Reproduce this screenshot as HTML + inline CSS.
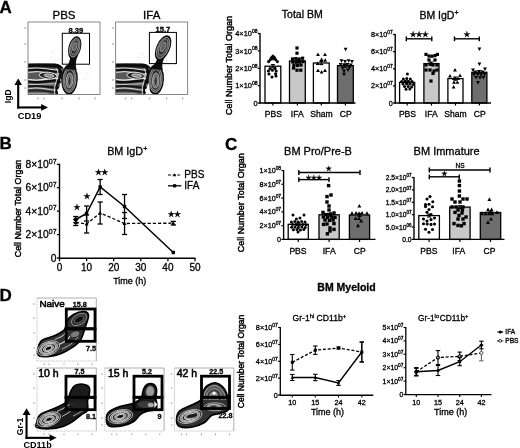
<!DOCTYPE html>
<html lang="en"><head><meta charset="utf-8"><title>Figure</title>
<style>
html,body{margin:0;padding:0;background:#fff;}
body{width:520px;height:448px;overflow:hidden;}
svg{display:block;filter:blur(0.35px);}
text{font-kerning:normal;stroke:#000;stroke-width:0.3px;}
</style></head><body>
<svg width="520" height="448" viewBox="0 0 520 448" font-family='"Liberation Sans", "DejaVu Sans", sans-serif'>
<rect width="520" height="448" fill="#fff"/>
<defs>
<filter id="bl" x="-10%" y="-10%" width="120%" height="120%"><feGaussianBlur stdDeviation="0.45"/></filter>
<filter id="bl2" x="-10%" y="-10%" width="120%" height="120%"><feGaussianBlur stdDeviation="0.7"/></filter>
</defs>
<text x="-0.6" y="12.6" font-size="17" text-anchor="start" font-weight="bold" fill="#000">A</text>
<text x="-0.6" y="148.8" font-size="17" text-anchor="start" font-weight="bold" fill="#000">B</text>
<text x="225" y="150" font-size="17" text-anchor="start" font-weight="bold" fill="#000">C</text>
<text x="-0.6" y="301.3" font-size="17" text-anchor="start" font-weight="bold" fill="#000">D</text>
<g>
<line x1="24.2" y1="28" x2="26.2" y2="28" stroke="#777" stroke-width="0.8" stroke-linecap="butt"/>
<line x1="24.2" y1="44" x2="26.2" y2="44" stroke="#777" stroke-width="0.8" stroke-linecap="butt"/>
<line x1="24.2" y1="62" x2="26.2" y2="62" stroke="#777" stroke-width="0.8" stroke-linecap="butt"/>
<line x1="24.2" y1="80" x2="26.2" y2="80" stroke="#777" stroke-width="0.8" stroke-linecap="butt"/>
<line x1="24.2" y1="88" x2="26.2" y2="88" stroke="#777" stroke-width="0.8" stroke-linecap="butt"/>
<line x1="38" y1="97.5" x2="38" y2="99.5" stroke="#777" stroke-width="0.8" stroke-linecap="butt"/>
<line x1="44" y1="97.5" x2="44" y2="99.5" stroke="#777" stroke-width="0.8" stroke-linecap="butt"/>
<line x1="62" y1="97.5" x2="62" y2="99.5" stroke="#777" stroke-width="0.8" stroke-linecap="butt"/>
<line x1="79" y1="97.5" x2="79" y2="99.5" stroke="#777" stroke-width="0.8" stroke-linecap="butt"/>
<line x1="95" y1="97.5" x2="95" y2="99.5" stroke="#777" stroke-width="0.8" stroke-linecap="butt"/>
<circle cx="59.7" cy="52.4" r="0.45" fill="#c4c4c4"/>
<circle cx="69.5" cy="51.2" r="0.45" fill="#c4c4c4"/>
<circle cx="66.1" cy="55.9" r="0.45" fill="#c4c4c4"/>
<circle cx="51.7" cy="58.1" r="0.45" fill="#c4c4c4"/>
<circle cx="51.1" cy="56.9" r="0.45" fill="#c4c4c4"/>
<circle cx="52.1" cy="51.5" r="0.45" fill="#c4c4c4"/>
<circle cx="62.7" cy="63.2" r="0.45" fill="#c4c4c4"/>
<circle cx="53.7" cy="53.6" r="0.45" fill="#c4c4c4"/>
<circle cx="68.8" cy="65.2" r="0.45" fill="#c4c4c4"/>
<circle cx="67.3" cy="56.3" r="0.45" fill="#c4c4c4"/>
<circle cx="79.3" cy="50.7" r="0.45" fill="#c4c4c4"/>
<circle cx="75.8" cy="54.6" r="0.45" fill="#c4c4c4"/>
<circle cx="54.3" cy="51.9" r="0.45" fill="#c4c4c4"/>
<circle cx="59.3" cy="63.1" r="0.45" fill="#c4c4c4"/>
<circle cx="55.4" cy="59.3" r="0.45" fill="#c4c4c4"/>
<circle cx="69.2" cy="56.0" r="0.45" fill="#c4c4c4"/>
<circle cx="66.4" cy="51.0" r="0.45" fill="#c4c4c4"/>
<circle cx="51.8" cy="53.3" r="0.45" fill="#c4c4c4"/>
<circle cx="70.4" cy="56.8" r="0.45" fill="#c4c4c4"/>
<circle cx="59.4" cy="59.4" r="0.45" fill="#c4c4c4"/>
<circle cx="63.6" cy="54.8" r="0.45" fill="#c4c4c4"/>
<circle cx="73.8" cy="61.2" r="0.45" fill="#c4c4c4"/>
<circle cx="57.3" cy="59.2" r="0.45" fill="#c4c4c4"/>
<circle cx="65.8" cy="64.0" r="0.45" fill="#c4c4c4"/>
<circle cx="71.9" cy="54.6" r="0.45" fill="#c4c4c4"/>
<circle cx="79.4" cy="51.9" r="0.45" fill="#c4c4c4"/>
<circle cx="83.9" cy="81.2" r="0.45" fill="#c4c4c4"/>
<circle cx="80.1" cy="73.7" r="0.45" fill="#c4c4c4"/>
<circle cx="78.5" cy="78.7" r="0.45" fill="#c4c4c4"/>
<circle cx="88.7" cy="76.0" r="0.45" fill="#c4c4c4"/>
<circle cx="90.3" cy="68.8" r="0.45" fill="#c4c4c4"/>
<circle cx="87.7" cy="76.6" r="0.45" fill="#c4c4c4"/>
<circle cx="86.1" cy="72.8" r="0.45" fill="#c4c4c4"/>
<circle cx="89.8" cy="86.5" r="0.45" fill="#c4c4c4"/>
<circle cx="84.6" cy="78.6" r="0.45" fill="#c4c4c4"/>
<circle cx="78.8" cy="79.6" r="0.45" fill="#c4c4c4"/>
<g filter="url(#bl)">
<clipPath id="clipA28"><path d="M28 63.6 L55 63.2 Q61 64.5 64 69 L65 76 Q61.5 77 60.5 83 Q59 90 57.5 94.5 L28 94.5 Z"/></clipPath>
<path d="M28 63.6 L55 63.2 Q61 64.5 64 69 L65 76 Q61.5 77 60.5 83 Q59 90 57.5 94.5 L28 94.5 Z" fill="#585858" stroke="none" stroke-width="1" stroke-linejoin="round"/>
<g clip-path="url(#clipA28)">
<path d="M27.5 65.4 Q39.4 64.80000000000001 51.56 65.58000000000001 T66 66.60000000000001" fill="none" stroke="#0a0a0a" stroke-width="3.6" stroke-linejoin="round"/>
<path d="M27.5 68.5 Q37.0 67.3 46.6 68.86 T58 69.7" fill="none" stroke="#d8d8d8" stroke-width="1.1" stroke-linejoin="round"/>
<path d="M27.5 70.4 Q38.2 68.9 49.08 70.85000000000001 T62 71.60000000000001" fill="none" stroke="#111" stroke-width="2.0" stroke-linejoin="round"/>
<path d="M27.5 72.4 Q37.3 70.60000000000001 47.22 72.94000000000001 T59 73.60000000000001" fill="none" stroke="#ececec" stroke-width="1.0" stroke-linejoin="round"/>
<path d="M27.5 79.4 Q37.9 81.0 48.46 78.92 T61 80.60000000000001" fill="none" stroke="#f0f0f0" stroke-width="1.3" stroke-linejoin="round"/>
<path d="M27.5 81.6 Q37.9 82.8 48.46 81.24 T61 82.8" fill="none" stroke="#111" stroke-width="2.3" stroke-linejoin="round"/>
<path d="M27.5 84.2 Q37.3 84.8 47.22 84.02 T59 85.4" fill="none" stroke="#c8c8c8" stroke-width="1.1" stroke-linejoin="round"/>
<path d="M27.5 86.4 Q37.3 85.60000000000001 47.22 86.64 T59 87.60000000000001" fill="none" stroke="#181818" stroke-width="2.0" stroke-linejoin="round"/>
<path d="M27.5 88.6 Q37.0 87.19999999999999 46.6 89.02 T58 89.8" fill="none" stroke="#dcdcdc" stroke-width="1.1" stroke-linejoin="round"/>
<path d="M27.5 90.8 Q37.0 89.8 46.6 91.1 T58 92.0" fill="none" stroke="#222" stroke-width="1.9" stroke-linejoin="round"/>
<path d="M27.5 93.3 Q34.6 93.3 41.64 93.3 T50 94.5" fill="none" stroke="#a0a0a0" stroke-width="1.3" stroke-linejoin="round"/>
<path d="M58.5 67 Q62.5 72 59 80 T57 94" fill="none" stroke="#0c0c0c" stroke-width="2.2" stroke-linejoin="round"/>
<path d="M56.3 68.5 Q59.5 73 56.6 80 T54.6 94" fill="none" stroke="#e4e4e4" stroke-width="0.9" stroke-linejoin="round"/>
</g>
<ellipse cx="48" cy="75.6" rx="8.8" ry="3.3" fill="#262626" stroke="#e8e8e8" stroke-width="0.9" transform="rotate(5 48 75.6)"/>
<ellipse cx="49" cy="75.6" rx="5" ry="1.6" fill="#8a8a8a" stroke="#f2f2f2" stroke-width="0.7" transform="rotate(5 49 75.6)"/>
<ellipse cx="69.5" cy="79.3" rx="8.3" ry="15.3" fill="#0a0a0a" stroke="none" stroke-width="0.6" transform="rotate(3 69.5 79.3)"/>
<ellipse cx="69.5" cy="79.6" rx="6.5" ry="12.8" fill="#4a4a4a" stroke="#cfcfcf" stroke-width="0.6" transform="rotate(3 69.5 79.6)"/>
<ellipse cx="69.5" cy="80" rx="4.9" ry="10.4" fill="#262626" stroke="#c8c8c8" stroke-width="0.6" transform="rotate(3 69.5 80)"/>
<ellipse cx="69.5" cy="80.5" rx="3.3" ry="7.6" fill="#6a6a6a" stroke="#e4e4e4" stroke-width="0.6" transform="rotate(3 69.5 80.5)"/>
<ellipse cx="69.5" cy="81" rx="1.7" ry="4.6" fill="#333" stroke="#ddd" stroke-width="0.5" transform="rotate(3 69.5 81)"/>
<path d="M65.5 69 Q70.5 62 70.2 55 L78.2 55 Q74.5 62 76.5 70 Z" fill="#0c0c0c" stroke="none" stroke-width="1" stroke-linejoin="round"/>
<ellipse cx="74.7" cy="47.6" rx="6.2" ry="11.6" fill="#0a0a0a" stroke="none" stroke-width="0.6" transform="rotate(15 74.7 47.6)"/>
<ellipse cx="74.7" cy="47.6" rx="4.84" ry="9.74" fill="#484848" stroke="#c8c8c8" stroke-width="0.6" transform="rotate(15 74.7 47.6)"/>
<ellipse cx="74.7" cy="47.1" rx="3.41" ry="7.19" fill="#2a2a2a" stroke="#bcbcbc" stroke-width="0.55" transform="rotate(15 74.7 47.1)"/>
<ellipse cx="74.7" cy="46.6" rx="1.98" ry="4.41" fill="#5e5e5e" stroke="#d0d0d0" stroke-width="0.5" transform="rotate(15 74.7 46.6)"/>
<path d="M58.2 94.5 Q59 88 61 82.5 Q62.2 88 62.3 94.5 Z" fill="#fff" stroke="none" stroke-width="1" stroke-linejoin="round"/>
<ellipse cx="59.5" cy="90.6" rx="2.1" ry="2.1" fill="#fff" stroke="none" stroke-width="0.6" transform="rotate(0 59.5 90.6)"/>
</g>
<rect x="28" y="22" width="72" height="72.5" fill="none" stroke="#6a6a6a" stroke-width="0.8"/>
<rect x="62.3" y="33.3" width="27.200000000000003" height="30.900000000000006" fill="none" stroke="#000" stroke-width="1"/>
<text x="75.9" y="33.0" font-size="7.6" text-anchor="middle" font-weight="bold" fill="#000">8.39</text>
<text x="64.0" y="18.6" font-size="11.5" text-anchor="middle" font-weight="normal" fill="#000">PBS</text>
</g>
<g>
<line x1="111.9" y1="28" x2="113.9" y2="28" stroke="#777" stroke-width="0.8" stroke-linecap="butt"/>
<line x1="111.9" y1="44" x2="113.9" y2="44" stroke="#777" stroke-width="0.8" stroke-linecap="butt"/>
<line x1="111.9" y1="62" x2="113.9" y2="62" stroke="#777" stroke-width="0.8" stroke-linecap="butt"/>
<line x1="111.9" y1="80" x2="113.9" y2="80" stroke="#777" stroke-width="0.8" stroke-linecap="butt"/>
<line x1="111.9" y1="88" x2="113.9" y2="88" stroke="#777" stroke-width="0.8" stroke-linecap="butt"/>
<line x1="125.7" y1="97.5" x2="125.7" y2="99.5" stroke="#777" stroke-width="0.8" stroke-linecap="butt"/>
<line x1="131.7" y1="97.5" x2="131.7" y2="99.5" stroke="#777" stroke-width="0.8" stroke-linecap="butt"/>
<line x1="149.7" y1="97.5" x2="149.7" y2="99.5" stroke="#777" stroke-width="0.8" stroke-linecap="butt"/>
<line x1="166.7" y1="97.5" x2="166.7" y2="99.5" stroke="#777" stroke-width="0.8" stroke-linecap="butt"/>
<line x1="182.7" y1="97.5" x2="182.7" y2="99.5" stroke="#777" stroke-width="0.8" stroke-linecap="butt"/>
<circle cx="157.1" cy="65.9" r="0.45" fill="#c4c4c4"/>
<circle cx="162.4" cy="54.6" r="0.45" fill="#c4c4c4"/>
<circle cx="149.3" cy="60.7" r="0.45" fill="#c4c4c4"/>
<circle cx="138.4" cy="57.4" r="0.45" fill="#c4c4c4"/>
<circle cx="142.7" cy="51.9" r="0.45" fill="#c4c4c4"/>
<circle cx="139.5" cy="62.3" r="0.45" fill="#c4c4c4"/>
<circle cx="141.6" cy="54.0" r="0.45" fill="#c4c4c4"/>
<circle cx="149.4" cy="63.9" r="0.45" fill="#c4c4c4"/>
<circle cx="140.1" cy="57.2" r="0.45" fill="#c4c4c4"/>
<circle cx="154.2" cy="64.1" r="0.45" fill="#c4c4c4"/>
<circle cx="162.3" cy="63.8" r="0.45" fill="#c4c4c4"/>
<circle cx="146.1" cy="56.6" r="0.45" fill="#c4c4c4"/>
<circle cx="148.5" cy="64.1" r="0.45" fill="#c4c4c4"/>
<circle cx="166.4" cy="52.4" r="0.45" fill="#c4c4c4"/>
<circle cx="143.0" cy="53.7" r="0.45" fill="#c4c4c4"/>
<circle cx="144.7" cy="57.8" r="0.45" fill="#c4c4c4"/>
<circle cx="155.4" cy="54.2" r="0.45" fill="#c4c4c4"/>
<circle cx="137.8" cy="56.7" r="0.45" fill="#c4c4c4"/>
<circle cx="148.8" cy="59.1" r="0.45" fill="#c4c4c4"/>
<circle cx="166.3" cy="61.0" r="0.45" fill="#c4c4c4"/>
<circle cx="153.2" cy="59.9" r="0.45" fill="#c4c4c4"/>
<circle cx="158.0" cy="50.9" r="0.45" fill="#c4c4c4"/>
<circle cx="164.7" cy="62.5" r="0.45" fill="#c4c4c4"/>
<circle cx="163.9" cy="62.8" r="0.45" fill="#c4c4c4"/>
<circle cx="149.5" cy="56.4" r="0.45" fill="#c4c4c4"/>
<circle cx="140.8" cy="60.1" r="0.45" fill="#c4c4c4"/>
<circle cx="166.6" cy="61.9" r="0.45" fill="#c4c4c4"/>
<circle cx="168.6" cy="64.5" r="0.45" fill="#c4c4c4"/>
<circle cx="170.5" cy="61.5" r="0.45" fill="#c4c4c4"/>
<circle cx="165.7" cy="64.2" r="0.45" fill="#c4c4c4"/>
<circle cx="167.1" cy="70.2" r="0.45" fill="#c4c4c4"/>
<circle cx="166.1" cy="84.5" r="0.45" fill="#c4c4c4"/>
<circle cx="174.3" cy="64.2" r="0.45" fill="#c4c4c4"/>
<circle cx="169.2" cy="69.7" r="0.45" fill="#c4c4c4"/>
<circle cx="170.8" cy="63.4" r="0.45" fill="#c4c4c4"/>
<circle cx="177.6" cy="87.8" r="0.45" fill="#c4c4c4"/>
<g filter="url(#bl)">
<clipPath id="clipA115"><path d="M115.7 63.6 L142.7 63.2 Q148.7 64.5 151.7 69 L152.7 76 Q149.2 77 148.2 83 Q146.7 90 145.2 94.5 L115.7 94.5 Z"/></clipPath>
<path d="M115.7 63.6 L142.7 63.2 Q148.7 64.5 151.7 69 L152.7 76 Q149.2 77 148.2 83 Q146.7 90 145.2 94.5 L115.7 94.5 Z" fill="#585858" stroke="none" stroke-width="1" stroke-linejoin="round"/>
<g clip-path="url(#clipA115)">
<path d="M115.2 65.4 Q127.10000000000001 64.80000000000001 139.26 65.58000000000001 T153.7 66.60000000000001" fill="none" stroke="#0a0a0a" stroke-width="3.6" stroke-linejoin="round"/>
<path d="M115.2 68.5 Q124.7 67.3 134.3 68.86 T145.7 69.7" fill="none" stroke="#d8d8d8" stroke-width="1.1" stroke-linejoin="round"/>
<path d="M115.2 70.4 Q125.9 68.9 136.78 70.85000000000001 T149.7 71.60000000000001" fill="none" stroke="#111" stroke-width="2.0" stroke-linejoin="round"/>
<path d="M115.2 72.4 Q125.0 70.60000000000001 134.92000000000002 72.94000000000001 T146.7 73.60000000000001" fill="none" stroke="#ececec" stroke-width="1.0" stroke-linejoin="round"/>
<path d="M115.2 79.4 Q125.60000000000001 81.0 136.16 78.92 T148.7 80.60000000000001" fill="none" stroke="#f0f0f0" stroke-width="1.3" stroke-linejoin="round"/>
<path d="M115.2 81.6 Q125.60000000000001 82.8 136.16 81.24 T148.7 82.8" fill="none" stroke="#111" stroke-width="2.3" stroke-linejoin="round"/>
<path d="M115.2 84.2 Q125.0 84.8 134.92000000000002 84.02 T146.7 85.4" fill="none" stroke="#c8c8c8" stroke-width="1.1" stroke-linejoin="round"/>
<path d="M115.2 86.4 Q125.0 85.60000000000001 134.92000000000002 86.64 T146.7 87.60000000000001" fill="none" stroke="#181818" stroke-width="2.0" stroke-linejoin="round"/>
<path d="M115.2 88.6 Q124.7 87.19999999999999 134.3 89.02 T145.7 89.8" fill="none" stroke="#dcdcdc" stroke-width="1.1" stroke-linejoin="round"/>
<path d="M115.2 90.8 Q124.7 89.8 134.3 91.1 T145.7 92.0" fill="none" stroke="#222" stroke-width="1.9" stroke-linejoin="round"/>
<path d="M115.2 93.3 Q122.3 93.3 129.34 93.3 T137.7 94.5" fill="none" stroke="#a0a0a0" stroke-width="1.3" stroke-linejoin="round"/>
<path d="M146.2 67 Q150.2 72 146.7 80 T144.7 94" fill="none" stroke="#0c0c0c" stroke-width="2.2" stroke-linejoin="round"/>
<path d="M144.0 68.5 Q147.2 73 144.3 80 T142.3 94" fill="none" stroke="#e4e4e4" stroke-width="0.9" stroke-linejoin="round"/>
</g>
<ellipse cx="135.7" cy="75.6" rx="8.8" ry="3.3" fill="#262626" stroke="#e8e8e8" stroke-width="0.9" transform="rotate(5 135.7 75.6)"/>
<ellipse cx="136.7" cy="75.6" rx="5" ry="1.6" fill="#8a8a8a" stroke="#f2f2f2" stroke-width="0.7" transform="rotate(5 136.7 75.6)"/>
<ellipse cx="155.7" cy="79.3" rx="8.3" ry="15.3" fill="#0a0a0a" stroke="none" stroke-width="0.6" transform="rotate(3 155.7 79.3)"/>
<ellipse cx="155.7" cy="79.6" rx="6.5" ry="12.8" fill="#4a4a4a" stroke="#cfcfcf" stroke-width="0.6" transform="rotate(3 155.7 79.6)"/>
<ellipse cx="155.7" cy="80" rx="4.9" ry="10.4" fill="#262626" stroke="#c8c8c8" stroke-width="0.6" transform="rotate(3 155.7 80)"/>
<ellipse cx="155.7" cy="80.5" rx="3.3" ry="7.6" fill="#6a6a6a" stroke="#e4e4e4" stroke-width="0.6" transform="rotate(3 155.7 80.5)"/>
<ellipse cx="155.7" cy="81" rx="1.7" ry="4.6" fill="#333" stroke="#ddd" stroke-width="0.5" transform="rotate(3 155.7 81)"/>
<path d="M151.7 69 Q156.7 62 158.6 55 L166.6 55 Q160.7 62 162.7 70 Z" fill="#0c0c0c" stroke="none" stroke-width="1" stroke-linejoin="round"/>
<ellipse cx="163.1" cy="47.9" rx="6.8" ry="13.4" fill="#0a0a0a" stroke="none" stroke-width="0.6" transform="rotate(24 163.1 47.9)"/>
<ellipse cx="163.1" cy="47.9" rx="5.3" ry="11.26" fill="#484848" stroke="#c8c8c8" stroke-width="0.6" transform="rotate(24 163.1 47.9)"/>
<ellipse cx="163.1" cy="47.4" rx="3.74" ry="8.31" fill="#2a2a2a" stroke="#bcbcbc" stroke-width="0.55" transform="rotate(24 163.1 47.4)"/>
<ellipse cx="163.1" cy="46.9" rx="2.18" ry="5.09" fill="#5e5e5e" stroke="#d0d0d0" stroke-width="0.5" transform="rotate(24 163.1 46.9)"/>
<path d="M145.9 94.5 Q146.7 88 148.7 82.5 Q149.9 88 150.0 94.5 Z" fill="#fff" stroke="none" stroke-width="1" stroke-linejoin="round"/>
<ellipse cx="147.2" cy="90.6" rx="2.1" ry="2.1" fill="#fff" stroke="none" stroke-width="0.6" transform="rotate(0 147.2 90.6)"/>
</g>
<rect x="115.7" y="22" width="71.99999999999999" height="72.5" fill="none" stroke="#6a6a6a" stroke-width="0.8"/>
<rect x="149.4" y="32.4" width="27.0" height="31.200000000000003" fill="none" stroke="#000" stroke-width="1"/>
<text x="162.9" y="32.1" font-size="7.6" text-anchor="middle" font-weight="bold" fill="#000">15.7</text>
<text x="151.7" y="18.6" font-size="11.5" text-anchor="middle" font-weight="normal" fill="#000">IFA</text>
</g>
<line x1="18.2" y1="83" x2="18.2" y2="108.5" stroke="#000" stroke-width="2.1" stroke-linecap="butt"/>
<line x1="17.15" y1="107.45" x2="43" y2="107.45" stroke="#000" stroke-width="2.1" stroke-linecap="butt"/>
<path d="M18.2 78.6 L22 85 L14.4 85 Z" fill="#000"/>
<path d="M48 107.45 L41.2 104.1 L41.2 110.8 Z" fill="#000"/>
<text x="11.5" y="103.2" font-size="8.6" text-anchor="start" font-weight="bold" fill="#000" transform="rotate(-90 11.5 103.2)" style="stroke-width:0">IgD</text>
<text x="17.7" y="118.9" font-size="9.3" text-anchor="start" font-weight="bold" fill="#000" style="stroke-width:0">CD19</text>
<text x="232.3" y="65.5" font-size="9" text-anchor="middle" font-weight="normal" fill="#000" transform="rotate(-90 232.3 65.5)" style="stroke-width:0.45px">Cell Number Total Organ</text>
<text x="302.3" y="18.4" font-size="10.5" text-anchor="middle" font-weight="normal" fill="#000">Total BM</text>
<rect x="265" y="66.2" width="15.800000000000011" height="36.8" fill="#fff" stroke="#000" stroke-width="1.3"/>
<line x1="272.9" y1="103" x2="272.9" y2="105.6" stroke="#000" stroke-width="1.2" stroke-linecap="butt"/>
<rect x="289.5" y="61" width="15.800000000000011" height="42" fill="#c8c8c8" stroke="#000" stroke-width="1.3"/>
<line x1="297.4" y1="103" x2="297.4" y2="105.6" stroke="#000" stroke-width="1.2" stroke-linecap="butt"/>
<rect x="313.4" y="63" width="15.800000000000011" height="40" fill="#fff" stroke="#000" stroke-width="1.3"/>
<line x1="321.29999999999995" y1="103" x2="321.29999999999995" y2="105.6" stroke="#000" stroke-width="1.2" stroke-linecap="butt"/>
<rect x="337.5" y="65.6" width="15.800000000000011" height="37.400000000000006" fill="#6e6e6e" stroke="#000" stroke-width="1.3"/>
<line x1="345.4" y1="103" x2="345.4" y2="105.6" stroke="#000" stroke-width="1.2" stroke-linecap="butt"/>
<line x1="260" y1="33.0" x2="260" y2="103.6" stroke="#000" stroke-width="1.4" stroke-linecap="butt"/>
<line x1="257.8" y1="33.5" x2="260" y2="33.5" stroke="#000" stroke-width="1.26" stroke-linecap="butt"/>
<text x="257.5" y="36.16" font-size="7.4" text-anchor="end" font-weight="normal" fill="#000">4×10<tspan font-size="5.03" dy="-3.11">08</tspan></text>
<line x1="257.8" y1="50.9" x2="260" y2="50.9" stroke="#000" stroke-width="1.26" stroke-linecap="butt"/>
<text x="257.5" y="53.56" font-size="7.4" text-anchor="end" font-weight="normal" fill="#000">3×10<tspan font-size="5.03" dy="-3.11">08</tspan></text>
<line x1="257.8" y1="68.3" x2="260" y2="68.3" stroke="#000" stroke-width="1.26" stroke-linecap="butt"/>
<text x="257.5" y="70.96" font-size="7.4" text-anchor="end" font-weight="normal" fill="#000">2×10<tspan font-size="5.03" dy="-3.11">08</tspan></text>
<line x1="257.8" y1="85.6" x2="260" y2="85.6" stroke="#000" stroke-width="1.26" stroke-linecap="butt"/>
<text x="257.5" y="88.26" font-size="7.4" text-anchor="end" font-weight="normal" fill="#000">1×10<tspan font-size="5.03" dy="-3.11">08</tspan></text>
<line x1="257.8" y1="103" x2="260" y2="103" stroke="#000" stroke-width="1.26" stroke-linecap="butt"/>
<text x="257.5" y="105.66" font-size="7.4" text-anchor="end" font-weight="normal" fill="#000">0</text>
<line x1="259.4" y1="103" x2="355.5" y2="103" stroke="#000" stroke-width="1.4" stroke-linecap="butt"/>
<line x1="272.9" y1="64.60000000000001" x2="272.9" y2="67.8" stroke="#000" stroke-width="1.1" stroke-linecap="butt"/>
<line x1="270.9" y1="64.60000000000001" x2="274.9" y2="64.60000000000001" stroke="#000" stroke-width="1.1" stroke-linecap="butt"/>
<line x1="270.9" y1="67.8" x2="274.9" y2="67.8" stroke="#000" stroke-width="1.1" stroke-linecap="butt"/>
<line x1="297.4" y1="59.4" x2="297.4" y2="62.6" stroke="#000" stroke-width="1.1" stroke-linecap="butt"/>
<line x1="295.4" y1="59.4" x2="299.4" y2="59.4" stroke="#000" stroke-width="1.1" stroke-linecap="butt"/>
<line x1="295.4" y1="62.6" x2="299.4" y2="62.6" stroke="#000" stroke-width="1.1" stroke-linecap="butt"/>
<line x1="321.29999999999995" y1="61.4" x2="321.29999999999995" y2="64.6" stroke="#000" stroke-width="1.1" stroke-linecap="butt"/>
<line x1="319.29999999999995" y1="61.4" x2="323.29999999999995" y2="61.4" stroke="#000" stroke-width="1.1" stroke-linecap="butt"/>
<line x1="319.29999999999995" y1="64.6" x2="323.29999999999995" y2="64.6" stroke="#000" stroke-width="1.1" stroke-linecap="butt"/>
<line x1="345.4" y1="63.99999999999999" x2="345.4" y2="67.19999999999999" stroke="#000" stroke-width="1.1" stroke-linecap="butt"/>
<line x1="343.4" y1="63.99999999999999" x2="347.4" y2="63.99999999999999" stroke="#000" stroke-width="1.1" stroke-linecap="butt"/>
<line x1="343.4" y1="67.19999999999999" x2="347.4" y2="67.19999999999999" stroke="#000" stroke-width="1.1" stroke-linecap="butt"/>
<circle cx="270.4" cy="59.6" r="1.55" fill="#000" stroke="none" stroke-width="0.6"/>
<circle cx="275.6" cy="59.6" r="1.55" fill="#000" stroke="none" stroke-width="0.6"/>
<circle cx="268.6" cy="61.6" r="1.55" fill="#000" stroke="none" stroke-width="0.6"/>
<circle cx="277.4" cy="61.6" r="1.55" fill="#000" stroke="none" stroke-width="0.6"/>
<circle cx="270" cy="68.6" r="1.55" fill="#000" stroke="none" stroke-width="0.6"/>
<circle cx="275" cy="68.4" r="1.55" fill="#000" stroke="none" stroke-width="0.6"/>
<circle cx="268.4" cy="71" r="1.55" fill="#000" stroke="none" stroke-width="0.6"/>
<circle cx="272.4" cy="70.2" r="1.55" fill="#000" stroke="none" stroke-width="0.6"/>
<circle cx="276.2" cy="71" r="1.55" fill="#000" stroke="none" stroke-width="0.6"/>
<circle cx="269" cy="74" r="1.55" fill="#000" stroke="none" stroke-width="0.6"/>
<circle cx="275.6" cy="73.8" r="1.55" fill="#000" stroke="none" stroke-width="0.6"/>
<circle cx="272" cy="77" r="1.55" fill="#000" stroke="none" stroke-width="0.6"/>
<circle cx="276" cy="76" r="1.55" fill="#000" stroke="none" stroke-width="0.6"/>
<path d="M273 54.2 l3.3 3.3 l-3.3 3.3 l-3.3 -3.3 Z" fill="#000"/>
<rect x="295.4" y="46.4" width="3.2" height="3.2" fill="#000" stroke="none" stroke-width="0.6"/>
<rect x="295.4" y="51.6" width="3.2" height="3.2" fill="#000" stroke="none" stroke-width="0.6"/>
<rect x="290.9" y="57.4" width="3.2" height="3.2" fill="#000" stroke="none" stroke-width="0.6"/>
<rect x="294.2" y="57.0" width="3.2" height="3.2" fill="#000" stroke="none" stroke-width="0.6"/>
<rect x="297.6" y="57.4" width="3.2" height="3.2" fill="#000" stroke="none" stroke-width="0.6"/>
<rect x="301.0" y="56.6" width="3.2" height="3.2" fill="#000" stroke="none" stroke-width="0.6"/>
<rect x="291.2" y="60.4" width="3.2" height="3.2" fill="#000" stroke="none" stroke-width="0.6"/>
<rect x="294.6" y="60.6" width="3.2" height="3.2" fill="#000" stroke="none" stroke-width="0.6"/>
<rect x="298.0" y="60.4" width="3.2" height="3.2" fill="#000" stroke="none" stroke-width="0.6"/>
<rect x="301.4" y="60.0" width="3.2" height="3.2" fill="#000" stroke="none" stroke-width="0.6"/>
<rect x="292.4" y="63.6" width="3.2" height="3.2" fill="#000" stroke="none" stroke-width="0.6"/>
<rect x="296.0" y="63.8" width="3.2" height="3.2" fill="#000" stroke="none" stroke-width="0.6"/>
<rect x="299.4" y="63.4" width="3.2" height="3.2" fill="#000" stroke="none" stroke-width="0.6"/>
<rect x="295.4" y="68.6" width="3.2" height="3.2" fill="#000" stroke="none" stroke-width="0.6"/>
<rect x="299.2" y="68.6" width="3.2" height="3.2" fill="#000" stroke="none" stroke-width="0.6"/>
<rect x="292.0" y="66.4" width="3.2" height="3.2" fill="#000" stroke="none" stroke-width="0.6"/>
<path d="M318 52.59 L319.93 56.09 L316.07 56.09 Z" fill="#000" stroke="none" stroke-width="0.6"/>
<path d="M325 52.59 L326.93 56.09 L323.07 56.09 Z" fill="#000" stroke="none" stroke-width="0.6"/>
<path d="M321.6 57.59 L323.53 61.09 L319.68 61.09 Z" fill="#000" stroke="none" stroke-width="0.6"/>
<path d="M325.2 58.19 L327.12 61.69 L323.27 61.69 Z" fill="#000" stroke="none" stroke-width="0.6"/>
<path d="M317.6 61.59 L319.53 65.09 L315.68 65.09 Z" fill="#000" stroke="none" stroke-width="0.6"/>
<path d="M318 68.39 L319.93 71.89 L316.07 71.89 Z" fill="#000" stroke="none" stroke-width="0.6"/>
<path d="M321.6 69.99 L323.53 73.49 L319.68 73.49 Z" fill="#000" stroke="none" stroke-width="0.6"/>
<path d="M325 68.39 L326.93 71.89 L323.07 71.89 Z" fill="#000" stroke="none" stroke-width="0.6"/>
<path d="M345.6 51.21 L347.53 47.71 L343.68 47.71 Z" fill="#000" stroke="none" stroke-width="0.6"/>
<path d="M341.5 62.81 L343.43 59.31 L339.57 59.31 Z" fill="#000" stroke="none" stroke-width="0.6"/>
<path d="M345 63.41 L346.93 59.91 L343.07 59.91 Z" fill="#000" stroke="none" stroke-width="0.6"/>
<path d="M348.6 62.81 L350.53 59.31 L346.68 59.31 Z" fill="#000" stroke="none" stroke-width="0.6"/>
<path d="M352 63.61 L353.93 60.11 L350.07 60.11 Z" fill="#000" stroke="none" stroke-width="0.6"/>
<path d="M340.6 66.41 L342.53 62.91 L338.68 62.91 Z" fill="#000" stroke="none" stroke-width="0.6"/>
<path d="M344 67.01 L345.93 63.51 L342.07 63.51 Z" fill="#000" stroke="none" stroke-width="0.6"/>
<path d="M347.4 66.61 L349.32 63.11 L345.47 63.11 Z" fill="#000" stroke="none" stroke-width="0.6"/>
<path d="M350.8 67.01 L352.73 63.51 L348.88 63.51 Z" fill="#000" stroke="none" stroke-width="0.6"/>
<path d="M342.5 70.01 L344.43 66.51 L340.57 66.51 Z" fill="#000" stroke="none" stroke-width="0.6"/>
<path d="M349.5 69.61 L351.43 66.11 L347.57 66.11 Z" fill="#000" stroke="none" stroke-width="0.6"/>
<path d="M344 73.01 L345.93 69.51 L342.07 69.51 Z" fill="#000" stroke="none" stroke-width="0.6"/>
<path d="M348 72.01 L349.93 68.51 L346.07 68.51 Z" fill="#000" stroke="none" stroke-width="0.6"/>
<path d="M344 76.21 L345.93 72.71 L342.07 72.71 Z" fill="#000" stroke="none" stroke-width="0.6"/>
<text x="273.3" y="117" font-size="8.6" text-anchor="middle" font-weight="normal" fill="#000">PBS</text>
<text x="297.3" y="117" font-size="8.6" text-anchor="middle" font-weight="normal" fill="#000">IFA</text>
<text x="321.5" y="117" font-size="8.6" text-anchor="middle" font-weight="normal" fill="#000">Sham</text>
<text x="345.8" y="117" font-size="8.6" text-anchor="middle" font-weight="normal" fill="#000">CP</text>
<text x="439" y="18.8" font-size="10.5" text-anchor="middle" font-weight="normal" fill="#000">BM IgD<tspan font-size="7" dy="-3.6">+</tspan></text>
<rect x="399.6" y="82.4" width="15.099999999999966" height="20.599999999999994" fill="#fff" stroke="#000" stroke-width="1.3"/>
<line x1="407.15" y1="103" x2="407.15" y2="105.6" stroke="#000" stroke-width="1.2" stroke-linecap="butt"/>
<rect x="423.9" y="63.6" width="15.100000000000023" height="39.4" fill="#c8c8c8" stroke="#000" stroke-width="1.3"/>
<line x1="431.45" y1="103" x2="431.45" y2="105.6" stroke="#000" stroke-width="1.2" stroke-linecap="butt"/>
<rect x="447.9" y="78.6" width="15.100000000000023" height="24.400000000000006" fill="#fff" stroke="#000" stroke-width="1.3"/>
<line x1="455.45" y1="103" x2="455.45" y2="105.6" stroke="#000" stroke-width="1.2" stroke-linecap="butt"/>
<rect x="471.8" y="72.3" width="15.099999999999966" height="30.700000000000003" fill="#6e6e6e" stroke="#000" stroke-width="1.3"/>
<line x1="479.35" y1="103" x2="479.35" y2="105.6" stroke="#000" stroke-width="1.2" stroke-linecap="butt"/>
<line x1="395.2" y1="34.0" x2="395.2" y2="103.6" stroke="#000" stroke-width="1.4" stroke-linecap="butt"/>
<line x1="393.0" y1="34.5" x2="395.2" y2="34.5" stroke="#000" stroke-width="1.26" stroke-linecap="butt"/>
<text x="392.7" y="37.09" font-size="7.2" text-anchor="end" font-weight="normal" fill="#000">8×10<tspan font-size="4.9" dy="-3.02">07</tspan></text>
<line x1="393.0" y1="51.6" x2="395.2" y2="51.6" stroke="#000" stroke-width="1.26" stroke-linecap="butt"/>
<text x="392.7" y="54.19" font-size="7.2" text-anchor="end" font-weight="normal" fill="#000">6×10<tspan font-size="4.9" dy="-3.02">07</tspan></text>
<line x1="393.0" y1="68.8" x2="395.2" y2="68.8" stroke="#000" stroke-width="1.26" stroke-linecap="butt"/>
<text x="392.7" y="71.39" font-size="7.2" text-anchor="end" font-weight="normal" fill="#000">4×10<tspan font-size="4.9" dy="-3.02">07</tspan></text>
<line x1="393.0" y1="85.9" x2="395.2" y2="85.9" stroke="#000" stroke-width="1.26" stroke-linecap="butt"/>
<text x="392.7" y="88.49" font-size="7.2" text-anchor="end" font-weight="normal" fill="#000">2×10<tspan font-size="4.9" dy="-3.02">07</tspan></text>
<line x1="393.0" y1="103" x2="395.2" y2="103" stroke="#000" stroke-width="1.26" stroke-linecap="butt"/>
<text x="392.7" y="105.59" font-size="7.2" text-anchor="end" font-weight="normal" fill="#000">0</text>
<line x1="394.5" y1="103" x2="491" y2="103" stroke="#000" stroke-width="1.4" stroke-linecap="butt"/>
<line x1="407.15" y1="80.80000000000001" x2="407.15" y2="84.0" stroke="#000" stroke-width="1.1" stroke-linecap="butt"/>
<line x1="405.15" y1="80.80000000000001" x2="409.15" y2="80.80000000000001" stroke="#000" stroke-width="1.1" stroke-linecap="butt"/>
<line x1="405.15" y1="84.0" x2="409.15" y2="84.0" stroke="#000" stroke-width="1.1" stroke-linecap="butt"/>
<line x1="431.45" y1="62.0" x2="431.45" y2="65.2" stroke="#000" stroke-width="1.1" stroke-linecap="butt"/>
<line x1="429.45" y1="62.0" x2="433.45" y2="62.0" stroke="#000" stroke-width="1.1" stroke-linecap="butt"/>
<line x1="429.45" y1="65.2" x2="433.45" y2="65.2" stroke="#000" stroke-width="1.1" stroke-linecap="butt"/>
<line x1="455.45" y1="77.0" x2="455.45" y2="80.19999999999999" stroke="#000" stroke-width="1.1" stroke-linecap="butt"/>
<line x1="453.45" y1="77.0" x2="457.45" y2="77.0" stroke="#000" stroke-width="1.1" stroke-linecap="butt"/>
<line x1="453.45" y1="80.19999999999999" x2="457.45" y2="80.19999999999999" stroke="#000" stroke-width="1.1" stroke-linecap="butt"/>
<line x1="479.35" y1="70.7" x2="479.35" y2="73.89999999999999" stroke="#000" stroke-width="1.1" stroke-linecap="butt"/>
<line x1="477.35" y1="70.7" x2="481.35" y2="70.7" stroke="#000" stroke-width="1.1" stroke-linecap="butt"/>
<line x1="477.35" y1="73.89999999999999" x2="481.35" y2="73.89999999999999" stroke="#000" stroke-width="1.1" stroke-linecap="butt"/>
<circle cx="407.4" cy="74" r="1.5" fill="#000" stroke="none" stroke-width="0.6"/>
<circle cx="403.4" cy="79" r="1.5" fill="#000" stroke="none" stroke-width="0.6"/>
<circle cx="406.8" cy="78.6" r="1.5" fill="#000" stroke="none" stroke-width="0.6"/>
<circle cx="410.4" cy="79" r="1.5" fill="#000" stroke="none" stroke-width="0.6"/>
<circle cx="401.6" cy="81.6" r="1.5" fill="#000" stroke="none" stroke-width="0.6"/>
<circle cx="405" cy="81.2" r="1.5" fill="#000" stroke="none" stroke-width="0.6"/>
<circle cx="408.6" cy="81.4" r="1.5" fill="#000" stroke="none" stroke-width="0.6"/>
<circle cx="412" cy="81.6" r="1.5" fill="#000" stroke="none" stroke-width="0.6"/>
<circle cx="403" cy="84" r="1.5" fill="#000" stroke="none" stroke-width="0.6"/>
<circle cx="406.6" cy="83.8" r="1.5" fill="#000" stroke="none" stroke-width="0.6"/>
<circle cx="410.2" cy="84" r="1.5" fill="#000" stroke="none" stroke-width="0.6"/>
<circle cx="413.4" cy="84.4" r="1.5" fill="#000" stroke="none" stroke-width="0.6"/>
<circle cx="404.6" cy="86.6" r="1.5" fill="#000" stroke="none" stroke-width="0.6"/>
<circle cx="408.2" cy="86.4" r="1.5" fill="#000" stroke="none" stroke-width="0.6"/>
<circle cx="411.6" cy="87" r="1.5" fill="#000" stroke="none" stroke-width="0.6"/>
<circle cx="406" cy="89.2" r="1.5" fill="#000" stroke="none" stroke-width="0.6"/>
<circle cx="409.8" cy="89" r="1.5" fill="#000" stroke="none" stroke-width="0.6"/>
<rect x="424.4" y="52.8" width="3.2" height="3.2" fill="#000" stroke="none" stroke-width="0.6"/>
<rect x="427.4" y="54.4" width="3.2" height="3.2" fill="#000" stroke="none" stroke-width="0.6"/>
<rect x="430.4" y="54.6" width="3.2" height="3.2" fill="#000" stroke="none" stroke-width="0.6"/>
<rect x="433.4" y="54.0" width="3.2" height="3.2" fill="#000" stroke="none" stroke-width="0.6"/>
<rect x="435.8" y="52.8" width="3.2" height="3.2" fill="#000" stroke="none" stroke-width="0.6"/>
<rect x="427.4" y="58.4" width="3.2" height="3.2" fill="#000" stroke="none" stroke-width="0.6"/>
<rect x="433.4" y="58.4" width="3.2" height="3.2" fill="#000" stroke="none" stroke-width="0.6"/>
<rect x="424.4" y="63.4" width="3.2" height="3.2" fill="#000" stroke="none" stroke-width="0.6"/>
<rect x="428.4" y="62.4" width="3.2" height="3.2" fill="#000" stroke="none" stroke-width="0.6"/>
<rect x="431.4" y="63.4" width="3.2" height="3.2" fill="#000" stroke="none" stroke-width="0.6"/>
<rect x="435.4" y="63.4" width="3.2" height="3.2" fill="#000" stroke="none" stroke-width="0.6"/>
<rect x="424.4" y="68.4" width="3.2" height="3.2" fill="#000" stroke="none" stroke-width="0.6"/>
<rect x="428.4" y="68.4" width="3.2" height="3.2" fill="#000" stroke="none" stroke-width="0.6"/>
<rect x="432.4" y="69.4" width="3.2" height="3.2" fill="#000" stroke="none" stroke-width="0.6"/>
<rect x="435.4" y="68.4" width="3.2" height="3.2" fill="#000" stroke="none" stroke-width="0.6"/>
<rect x="431.4" y="71.8" width="3.2" height="3.2" fill="#000" stroke="none" stroke-width="0.6"/>
<rect x="429.4" y="79.4" width="3.2" height="3.2" fill="#000" stroke="none" stroke-width="0.6"/>
<path d="M455 67.99 L456.93 71.49 L453.07 71.49 Z" fill="#000" stroke="none" stroke-width="0.6"/>
<path d="M450 73.99 L451.93 77.49 L448.07 77.49 Z" fill="#000" stroke="none" stroke-width="0.6"/>
<path d="M460 73.59 L461.93 77.09 L458.07 77.09 Z" fill="#000" stroke="none" stroke-width="0.6"/>
<path d="M454 76.39 L455.93 79.89 L452.07 79.89 Z" fill="#000" stroke="none" stroke-width="0.6"/>
<path d="M458 76.39 L459.93 79.89 L456.07 79.89 Z" fill="#000" stroke="none" stroke-width="0.6"/>
<path d="M454 80.19 L455.93 83.69 L452.07 83.69 Z" fill="#000" stroke="none" stroke-width="0.6"/>
<path d="M457.4 80.19 L459.32 83.69 L455.47 83.69 Z" fill="#000" stroke="none" stroke-width="0.6"/>
<path d="M453.6 84.99 L455.53 88.49 L451.68 88.49 Z" fill="#000" stroke="none" stroke-width="0.6"/>
<path d="M479.4 51.01 L481.32 47.51 L477.47 47.51 Z" fill="#000" stroke="none" stroke-width="0.6"/>
<path d="M479.4 66.01 L481.32 62.51 L477.47 62.51 Z" fill="#000" stroke="none" stroke-width="0.6"/>
<path d="M473 72.01 L474.93 68.51 L471.07 68.51 Z" fill="#000" stroke="none" stroke-width="0.6"/>
<path d="M485 71.01 L486.93 67.51 L483.07 67.51 Z" fill="#000" stroke="none" stroke-width="0.6"/>
<path d="M475.4 74.01 L477.32 70.51 L473.47 70.51 Z" fill="#000" stroke="none" stroke-width="0.6"/>
<path d="M479 73.61 L480.93 70.11 L477.07 70.11 Z" fill="#000" stroke="none" stroke-width="0.6"/>
<path d="M482.6 74.01 L484.53 70.51 L480.68 70.51 Z" fill="#000" stroke="none" stroke-width="0.6"/>
<path d="M474 76.61 L475.93 73.11 L472.07 73.11 Z" fill="#000" stroke="none" stroke-width="0.6"/>
<path d="M477.6 76.41 L479.53 72.91 L475.68 72.91 Z" fill="#000" stroke="none" stroke-width="0.6"/>
<path d="M481.2 76.81 L483.12 73.31 L479.27 73.31 Z" fill="#000" stroke="none" stroke-width="0.6"/>
<path d="M484.6 76.41 L486.53 72.91 L482.68 72.91 Z" fill="#000" stroke="none" stroke-width="0.6"/>
<path d="M476 79.41 L477.93 75.91 L474.07 75.91 Z" fill="#000" stroke="none" stroke-width="0.6"/>
<path d="M480 79.81 L481.93 76.31 L478.07 76.31 Z" fill="#000" stroke="none" stroke-width="0.6"/>
<path d="M483.4 79.41 L485.32 75.91 L481.47 75.91 Z" fill="#000" stroke="none" stroke-width="0.6"/>
<path d="M478 84.61 L479.93 81.11 L476.07 81.11 Z" fill="#000" stroke="none" stroke-width="0.6"/>
<text x="407.5" y="117" font-size="8.6" text-anchor="middle" font-weight="normal" fill="#000">PBS</text>
<text x="431.3" y="117" font-size="8.6" text-anchor="middle" font-weight="normal" fill="#000">IFA</text>
<text x="455.5" y="117" font-size="8.6" text-anchor="middle" font-weight="normal" fill="#000">Sham</text>
<text x="479.7" y="117" font-size="8.6" text-anchor="middle" font-weight="normal" fill="#000">CP</text>
<line x1="406.3" y1="38.8" x2="431.8" y2="38.8" stroke="#000" stroke-width="1.4" stroke-linecap="butt"/>
<line x1="406.3" y1="36.4" x2="406.3" y2="41.199999999999996" stroke="#000" stroke-width="1.4" stroke-linecap="butt"/>
<line x1="431.8" y1="36.4" x2="431.8" y2="41.199999999999996" stroke="#000" stroke-width="1.4" stroke-linecap="butt"/>
<line x1="454.5" y1="38.8" x2="479.3" y2="38.8" stroke="#000" stroke-width="1.4" stroke-linecap="butt"/>
<line x1="454.5" y1="36.4" x2="454.5" y2="41.199999999999996" stroke="#000" stroke-width="1.4" stroke-linecap="butt"/>
<line x1="479.3" y1="36.4" x2="479.3" y2="41.199999999999996" stroke="#000" stroke-width="1.4" stroke-linecap="butt"/>
<text x="409.42" y="37.40" font-size="8.11" letter-spacing="-1.14" style="stroke-width:0.3px">★★★</text>
<text x="463.35" y="37.40" font-size="8.11" letter-spacing="-1.14" style="stroke-width:0.3px">★</text>
<text x="21.4" y="208.5" font-size="8.9" text-anchor="middle" font-weight="normal" fill="#000" transform="rotate(-90 21.4 208.5)" style="stroke-width:0.45px">Cell Number Total Organ</text>
<text x="127.2" y="154.5" font-size="10.8" text-anchor="middle" font-weight="normal" fill="#000">BM IgD<tspan font-size="7" dy="-3.6">+</tspan></text>
<line x1="59.5" y1="163.8" x2="59.5" y2="258.6" stroke="#000" stroke-width="1.4" stroke-linecap="butt"/>
<line x1="56.9" y1="164.3" x2="59.5" y2="164.3" stroke="#000" stroke-width="1.26" stroke-linecap="butt"/>
<text x="56.6" y="168.01" font-size="10.3" text-anchor="end" font-weight="normal" fill="#000">8×10<tspan font-size="7.0" dy="-4.33">07</tspan></text>
<line x1="56.9" y1="187.7" x2="59.5" y2="187.7" stroke="#000" stroke-width="1.26" stroke-linecap="butt"/>
<text x="56.6" y="191.41" font-size="10.3" text-anchor="end" font-weight="normal" fill="#000">6×10<tspan font-size="7.0" dy="-4.33">07</tspan></text>
<line x1="56.9" y1="211.1" x2="59.5" y2="211.1" stroke="#000" stroke-width="1.26" stroke-linecap="butt"/>
<text x="56.6" y="214.81" font-size="10.3" text-anchor="end" font-weight="normal" fill="#000">4×10<tspan font-size="7.0" dy="-4.33">07</tspan></text>
<line x1="56.9" y1="234.6" x2="59.5" y2="234.6" stroke="#000" stroke-width="1.26" stroke-linecap="butt"/>
<text x="56.6" y="238.31" font-size="10.3" text-anchor="end" font-weight="normal" fill="#000">2×10<tspan font-size="7.0" dy="-4.33">07</tspan></text>
<line x1="56.9" y1="258" x2="59.5" y2="258" stroke="#000" stroke-width="1.26" stroke-linecap="butt"/>
<text x="56.6" y="261.71" font-size="10.3" text-anchor="end" font-weight="normal" fill="#000">0</text>
<line x1="58.8" y1="258.3" x2="195.6" y2="258.3" stroke="#000" stroke-width="1.4" stroke-linecap="butt"/>
<line x1="59.5" y1="258.3" x2="59.5" y2="261.2" stroke="#000" stroke-width="1.3" stroke-linecap="butt"/>
<text x="59.5" y="270.6" font-size="10" text-anchor="middle" font-weight="normal" fill="#000">0</text>
<line x1="86.6" y1="258.3" x2="86.6" y2="261.2" stroke="#000" stroke-width="1.3" stroke-linecap="butt"/>
<text x="86.6" y="270.6" font-size="10" text-anchor="middle" font-weight="normal" fill="#000">10</text>
<line x1="113.7" y1="258.3" x2="113.7" y2="261.2" stroke="#000" stroke-width="1.3" stroke-linecap="butt"/>
<text x="113.7" y="270.6" font-size="10" text-anchor="middle" font-weight="normal" fill="#000">20</text>
<line x1="140.8" y1="258.3" x2="140.8" y2="261.2" stroke="#000" stroke-width="1.3" stroke-linecap="butt"/>
<text x="140.8" y="270.6" font-size="10" text-anchor="middle" font-weight="normal" fill="#000">30</text>
<line x1="167.9" y1="258.3" x2="167.9" y2="261.2" stroke="#000" stroke-width="1.3" stroke-linecap="butt"/>
<text x="167.9" y="270.6" font-size="10" text-anchor="middle" font-weight="normal" fill="#000">40</text>
<line x1="195.0" y1="258.3" x2="195.0" y2="261.2" stroke="#000" stroke-width="1.3" stroke-linecap="butt"/>
<text x="195.0" y="270.6" font-size="10" text-anchor="middle" font-weight="normal" fill="#000">50</text>
<text x="129.8" y="284.3" font-size="9" text-anchor="middle" font-weight="normal" fill="#000">Time (h)</text>
<polyline fill="none" stroke="#000" stroke-width="1.5" points="75.8,219.5 86.6,213.5 100.2,187 124.5,206.5 173.3,252.5"/>
<polyline fill="none" stroke="#000" stroke-width="1.3" stroke-dasharray="3.2 2" points="75.8,222.5 86.6,224 100.2,213 124.5,223.5 173.3,223.2"/>
<line x1="75.75999999999999" y1="216.5" x2="75.75999999999999" y2="222.5" stroke="#000" stroke-width="1.3" stroke-linecap="butt"/>
<line x1="73.16" y1="216.5" x2="78.35999999999999" y2="216.5" stroke="#000" stroke-width="1.3" stroke-linecap="butt"/>
<line x1="73.16" y1="222.5" x2="78.35999999999999" y2="222.5" stroke="#000" stroke-width="1.3" stroke-linecap="butt"/>
<rect x="74.06" y="217.8" width="3.4" height="3.4" fill="#000" stroke="none" stroke-width="0.6"/>
<line x1="86.6" y1="206.0" x2="86.6" y2="221.0" stroke="#000" stroke-width="1.3" stroke-linecap="butt"/>
<line x1="84.0" y1="206.0" x2="89.19999999999999" y2="206.0" stroke="#000" stroke-width="1.3" stroke-linecap="butt"/>
<line x1="84.0" y1="221.0" x2="89.19999999999999" y2="221.0" stroke="#000" stroke-width="1.3" stroke-linecap="butt"/>
<rect x="84.9" y="211.8" width="3.4" height="3.4" fill="#000" stroke="none" stroke-width="0.6"/>
<line x1="100.15" y1="179.5" x2="100.15" y2="194.5" stroke="#000" stroke-width="1.3" stroke-linecap="butt"/>
<line x1="97.55000000000001" y1="179.5" x2="102.75" y2="179.5" stroke="#000" stroke-width="1.3" stroke-linecap="butt"/>
<line x1="97.55000000000001" y1="194.5" x2="102.75" y2="194.5" stroke="#000" stroke-width="1.3" stroke-linecap="butt"/>
<rect x="98.45" y="185.3" width="3.4" height="3.4" fill="#000" stroke="none" stroke-width="0.6"/>
<line x1="124.53999999999999" y1="194.5" x2="124.53999999999999" y2="218.5" stroke="#000" stroke-width="1.3" stroke-linecap="butt"/>
<line x1="121.94" y1="194.5" x2="127.13999999999999" y2="194.5" stroke="#000" stroke-width="1.3" stroke-linecap="butt"/>
<line x1="121.94" y1="218.5" x2="127.13999999999999" y2="218.5" stroke="#000" stroke-width="1.3" stroke-linecap="butt"/>
<rect x="122.84" y="204.8" width="3.4" height="3.4" fill="#000" stroke="none" stroke-width="0.6"/>
<rect x="171.62" y="250.8" width="3.4" height="3.4" fill="#000" stroke="none" stroke-width="0.6"/>
<line x1="75.75999999999999" y1="219.5" x2="75.75999999999999" y2="225.5" stroke="#000" stroke-width="1.3" stroke-linecap="butt"/>
<line x1="73.16" y1="219.5" x2="78.35999999999999" y2="219.5" stroke="#000" stroke-width="1.3" stroke-linecap="butt"/>
<line x1="73.16" y1="225.5" x2="78.35999999999999" y2="225.5" stroke="#000" stroke-width="1.3" stroke-linecap="butt"/>
<path d="M75.76 220.43 L77.74 224.03 L73.78 224.03 Z" fill="#000" stroke="none" stroke-width="0.6"/>
<line x1="86.6" y1="215" x2="86.6" y2="233" stroke="#000" stroke-width="1.3" stroke-linecap="butt"/>
<line x1="84.0" y1="215" x2="89.19999999999999" y2="215" stroke="#000" stroke-width="1.3" stroke-linecap="butt"/>
<line x1="84.0" y1="233" x2="89.19999999999999" y2="233" stroke="#000" stroke-width="1.3" stroke-linecap="butt"/>
<path d="M86.6 221.93 L88.58 225.53 L84.62 225.53 Z" fill="#000" stroke="none" stroke-width="0.6"/>
<line x1="100.15" y1="202" x2="100.15" y2="224" stroke="#000" stroke-width="1.3" stroke-linecap="butt"/>
<line x1="97.55000000000001" y1="202" x2="102.75" y2="202" stroke="#000" stroke-width="1.3" stroke-linecap="butt"/>
<line x1="97.55000000000001" y1="224" x2="102.75" y2="224" stroke="#000" stroke-width="1.3" stroke-linecap="butt"/>
<path d="M100.15 210.93 L102.13 214.53 L98.17 214.53 Z" fill="#000" stroke="none" stroke-width="0.6"/>
<line x1="124.53999999999999" y1="212.5" x2="124.53999999999999" y2="234.5" stroke="#000" stroke-width="1.3" stroke-linecap="butt"/>
<line x1="121.94" y1="212.5" x2="127.13999999999999" y2="212.5" stroke="#000" stroke-width="1.3" stroke-linecap="butt"/>
<line x1="121.94" y1="234.5" x2="127.13999999999999" y2="234.5" stroke="#000" stroke-width="1.3" stroke-linecap="butt"/>
<path d="M124.54 221.43 L126.52 225.03 L122.56 225.03 Z" fill="#000" stroke="none" stroke-width="0.6"/>
<line x1="173.32" y1="221.39999999999998" x2="173.32" y2="225.0" stroke="#000" stroke-width="1.3" stroke-linecap="butt"/>
<line x1="170.72" y1="221.39999999999998" x2="175.92" y2="221.39999999999998" stroke="#000" stroke-width="1.3" stroke-linecap="butt"/>
<line x1="170.72" y1="225.0" x2="175.92" y2="225.0" stroke="#000" stroke-width="1.3" stroke-linecap="butt"/>
<path d="M173.32 221.13 L175.3 224.73 L171.34 224.73 Z" fill="#000" stroke="none" stroke-width="0.6"/>
<text x="73.16" y="209.81" font-size="8.32" letter-spacing="-1.16" style="stroke-width:0.3px">★</text>
<text x="83.16" y="199.11" font-size="8.32" letter-spacing="-1.16" style="stroke-width:0.3px">★</text>
<text x="94.71" y="175.41" font-size="8.32" letter-spacing="-1.16" style="stroke-width:0.3px">★★</text>
<text x="167.51" y="216.61" font-size="8.32" letter-spacing="-1.16" style="stroke-width:0.3px">★★</text>
<line x1="168" y1="175" x2="181.3" y2="175" stroke="#000" stroke-width="1.2" stroke-dasharray="3 1.6" stroke-linecap="butt"/>
<path d="M174.6 173.16 L176.36 176.36 L172.84 176.36 Z" fill="#000" stroke="none" stroke-width="0.6"/>
<text x="184.3" y="177.5" font-size="10" text-anchor="start" font-weight="normal" fill="#000">PBS</text>
<line x1="168" y1="185.8" x2="181.3" y2="185.8" stroke="#000" stroke-width="1.3" stroke-linecap="butt"/>
<rect x="173.0" y="184.2" width="3.2" height="3.2" fill="#000" stroke="none" stroke-width="0.6"/>
<text x="184.3" y="189.2" font-size="10" text-anchor="start" font-weight="normal" fill="#000">IFA</text>
<text x="244.2" y="202.7" font-size="9" text-anchor="middle" font-weight="normal" fill="#000" transform="rotate(-90 244.2 202.7)" style="stroke-width:0.45px">Cell Number Total Organ</text>
<text x="318" y="154.5" font-size="11" text-anchor="middle" font-weight="normal" fill="#000">BM Pro/Pre-B</text>
<rect x="288.2" y="224.3" width="20.100000000000023" height="15.099999999999994" fill="#fff" stroke="#000" stroke-width="1.3"/>
<line x1="298.25" y1="239.4" x2="298.25" y2="242.0" stroke="#000" stroke-width="1.2" stroke-linecap="butt"/>
<rect x="319" y="214.8" width="20.19999999999999" height="24.599999999999994" fill="#c8c8c8" stroke="#000" stroke-width="1.3"/>
<line x1="329.1" y1="239.4" x2="329.1" y2="242.0" stroke="#000" stroke-width="1.2" stroke-linecap="butt"/>
<rect x="349.4" y="215" width="20.200000000000045" height="24.400000000000006" fill="#6e6e6e" stroke="#000" stroke-width="1.3"/>
<line x1="359.5" y1="239.4" x2="359.5" y2="242.0" stroke="#000" stroke-width="1.2" stroke-linecap="butt"/>
<line x1="283.6" y1="170.0" x2="283.6" y2="240.0" stroke="#000" stroke-width="1.4" stroke-linecap="butt"/>
<line x1="281.40000000000003" y1="170.5" x2="283.6" y2="170.5" stroke="#000" stroke-width="1.26" stroke-linecap="butt"/>
<text x="281.1" y="173.09" font-size="7.2" text-anchor="end" font-weight="normal" fill="#000">1×10<tspan font-size="4.9" dy="-3.02">08</tspan></text>
<line x1="281.40000000000003" y1="184.3" x2="283.6" y2="184.3" stroke="#000" stroke-width="1.26" stroke-linecap="butt"/>
<text x="281.1" y="186.89" font-size="7.2" text-anchor="end" font-weight="normal" fill="#000">8×10<tspan font-size="4.9" dy="-3.02">07</tspan></text>
<line x1="281.40000000000003" y1="198.1" x2="283.6" y2="198.1" stroke="#000" stroke-width="1.26" stroke-linecap="butt"/>
<text x="281.1" y="200.69" font-size="7.2" text-anchor="end" font-weight="normal" fill="#000">6×10<tspan font-size="4.9" dy="-3.02">07</tspan></text>
<line x1="281.40000000000003" y1="211.9" x2="283.6" y2="211.9" stroke="#000" stroke-width="1.26" stroke-linecap="butt"/>
<text x="281.1" y="214.49" font-size="7.2" text-anchor="end" font-weight="normal" fill="#000">4×10<tspan font-size="4.9" dy="-3.02">07</tspan></text>
<line x1="281.40000000000003" y1="225.7" x2="283.6" y2="225.7" stroke="#000" stroke-width="1.26" stroke-linecap="butt"/>
<text x="281.1" y="228.29" font-size="7.2" text-anchor="end" font-weight="normal" fill="#000">2×10<tspan font-size="4.9" dy="-3.02">07</tspan></text>
<line x1="281.40000000000003" y1="239.4" x2="283.6" y2="239.4" stroke="#000" stroke-width="1.26" stroke-linecap="butt"/>
<text x="281.1" y="241.99" font-size="7.2" text-anchor="end" font-weight="normal" fill="#000">0</text>
<line x1="283.1" y1="239.4" x2="375.5" y2="239.4" stroke="#000" stroke-width="1.4" stroke-linecap="butt"/>
<line x1="298.25" y1="222.9" x2="298.25" y2="225.70000000000002" stroke="#000" stroke-width="1.1" stroke-linecap="butt"/>
<line x1="296.25" y1="222.9" x2="300.25" y2="222.9" stroke="#000" stroke-width="1.1" stroke-linecap="butt"/>
<line x1="296.25" y1="225.70000000000002" x2="300.25" y2="225.70000000000002" stroke="#000" stroke-width="1.1" stroke-linecap="butt"/>
<line x1="329.1" y1="213.4" x2="329.1" y2="216.20000000000002" stroke="#000" stroke-width="1.1" stroke-linecap="butt"/>
<line x1="327.1" y1="213.4" x2="331.1" y2="213.4" stroke="#000" stroke-width="1.1" stroke-linecap="butt"/>
<line x1="327.1" y1="216.20000000000002" x2="331.1" y2="216.20000000000002" stroke="#000" stroke-width="1.1" stroke-linecap="butt"/>
<line x1="359.5" y1="213.6" x2="359.5" y2="216.4" stroke="#000" stroke-width="1.1" stroke-linecap="butt"/>
<line x1="357.5" y1="213.6" x2="361.5" y2="213.6" stroke="#000" stroke-width="1.1" stroke-linecap="butt"/>
<line x1="357.5" y1="216.4" x2="361.5" y2="216.4" stroke="#000" stroke-width="1.1" stroke-linecap="butt"/>
<circle cx="293" cy="215" r="1.5" fill="#000" stroke="none" stroke-width="0.6"/>
<circle cx="304" cy="215" r="1.5" fill="#000" stroke="none" stroke-width="0.6"/>
<circle cx="296.4" cy="219" r="1.5" fill="#000" stroke="none" stroke-width="0.6"/>
<circle cx="300" cy="218" r="1.5" fill="#000" stroke="none" stroke-width="0.6"/>
<circle cx="291.4" cy="222" r="1.5" fill="#000" stroke="none" stroke-width="0.6"/>
<circle cx="294.8" cy="221.6" r="1.5" fill="#000" stroke="none" stroke-width="0.6"/>
<circle cx="298.2" cy="222" r="1.5" fill="#000" stroke="none" stroke-width="0.6"/>
<circle cx="301.6" cy="221.6" r="1.5" fill="#000" stroke="none" stroke-width="0.6"/>
<circle cx="305" cy="222" r="1.5" fill="#000" stroke="none" stroke-width="0.6"/>
<circle cx="292.6" cy="224.6" r="1.5" fill="#000" stroke="none" stroke-width="0.6"/>
<circle cx="296" cy="224.4" r="1.5" fill="#000" stroke="none" stroke-width="0.6"/>
<circle cx="299.4" cy="224.8" r="1.5" fill="#000" stroke="none" stroke-width="0.6"/>
<circle cx="302.8" cy="224.4" r="1.5" fill="#000" stroke="none" stroke-width="0.6"/>
<circle cx="306" cy="224.8" r="1.5" fill="#000" stroke="none" stroke-width="0.6"/>
<circle cx="291.6" cy="227.2" r="1.5" fill="#000" stroke="none" stroke-width="0.6"/>
<circle cx="295" cy="227" r="1.5" fill="#000" stroke="none" stroke-width="0.6"/>
<circle cx="298.4" cy="227.4" r="1.5" fill="#000" stroke="none" stroke-width="0.6"/>
<circle cx="301.8" cy="227" r="1.5" fill="#000" stroke="none" stroke-width="0.6"/>
<circle cx="305.2" cy="227.4" r="1.5" fill="#000" stroke="none" stroke-width="0.6"/>
<circle cx="293.4" cy="229.8" r="1.5" fill="#000" stroke="none" stroke-width="0.6"/>
<circle cx="297" cy="229.6" r="1.5" fill="#000" stroke="none" stroke-width="0.6"/>
<circle cx="300.4" cy="230" r="1.5" fill="#000" stroke="none" stroke-width="0.6"/>
<circle cx="303.8" cy="229.6" r="1.5" fill="#000" stroke="none" stroke-width="0.6"/>
<circle cx="298" cy="232" r="1.5" fill="#000" stroke="none" stroke-width="0.6"/>
<rect x="326.9" y="183.9" width="3.4" height="3.4" fill="#000" stroke="none" stroke-width="0.6"/>
<rect x="325.3" y="194.9" width="3.4" height="3.4" fill="#000" stroke="none" stroke-width="0.6"/>
<rect x="329.3" y="193.3" width="3.4" height="3.4" fill="#000" stroke="none" stroke-width="0.6"/>
<rect x="325.3" y="200.3" width="3.4" height="3.4" fill="#000" stroke="none" stroke-width="0.6"/>
<rect x="327.3" y="204.3" width="3.4" height="3.4" fill="#000" stroke="none" stroke-width="0.6"/>
<rect x="327.3" y="208.3" width="3.4" height="3.4" fill="#000" stroke="none" stroke-width="0.6"/>
<rect x="321.3" y="210.7" width="3.4" height="3.4" fill="#000" stroke="none" stroke-width="0.6"/>
<rect x="332.3" y="211.3" width="3.4" height="3.4" fill="#000" stroke="none" stroke-width="0.6"/>
<rect x="324.3" y="212.9" width="3.4" height="3.4" fill="#000" stroke="none" stroke-width="0.6"/>
<rect x="328.9" y="212.3" width="3.4" height="3.4" fill="#000" stroke="none" stroke-width="0.6"/>
<rect x="321.7" y="215.3" width="3.4" height="3.4" fill="#000" stroke="none" stroke-width="0.6"/>
<rect x="325.9" y="215.7" width="3.4" height="3.4" fill="#000" stroke="none" stroke-width="0.6"/>
<rect x="330.1" y="215.3" width="3.4" height="3.4" fill="#000" stroke="none" stroke-width="0.6"/>
<rect x="333.3" y="215.7" width="3.4" height="3.4" fill="#000" stroke="none" stroke-width="0.6"/>
<rect x="323.3" y="218.3" width="3.4" height="3.4" fill="#000" stroke="none" stroke-width="0.6"/>
<rect x="327.7" y="218.7" width="3.4" height="3.4" fill="#000" stroke="none" stroke-width="0.6"/>
<rect x="331.3" y="218.3" width="3.4" height="3.4" fill="#000" stroke="none" stroke-width="0.6"/>
<rect x="325.3" y="222.3" width="3.4" height="3.4" fill="#000" stroke="none" stroke-width="0.6"/>
<rect x="332.3" y="221.9" width="3.4" height="3.4" fill="#000" stroke="none" stroke-width="0.6"/>
<rect x="321.9" y="222.7" width="3.4" height="3.4" fill="#000" stroke="none" stroke-width="0.6"/>
<rect x="328.3" y="226.3" width="3.4" height="3.4" fill="#000" stroke="none" stroke-width="0.6"/>
<rect x="328.3" y="229.3" width="3.4" height="3.4" fill="#000" stroke="none" stroke-width="0.6"/>
<rect x="325.7" y="232.1" width="3.4" height="3.4" fill="#000" stroke="none" stroke-width="0.6"/>
<rect x="332.3" y="227.7" width="3.4" height="3.4" fill="#000" stroke="none" stroke-width="0.6"/>
<path d="M359.4 203.93 L361.38 207.53 L357.42 207.53 Z" fill="#000" stroke="none" stroke-width="0.6"/>
<path d="M352 211.13 L353.98 214.73 L350.02 214.73 Z" fill="#000" stroke="none" stroke-width="0.6"/>
<path d="M356 210.93 L357.98 214.53 L354.02 214.53 Z" fill="#000" stroke="none" stroke-width="0.6"/>
<path d="M359 211.33 L360.98 214.93 L357.02 214.93 Z" fill="#000" stroke="none" stroke-width="0.6"/>
<path d="M362 210.93 L363.98 214.53 L360.02 214.53 Z" fill="#000" stroke="none" stroke-width="0.6"/>
<path d="M367 211.13 L368.98 214.73 L365.02 214.73 Z" fill="#000" stroke="none" stroke-width="0.6"/>
<path d="M355.6 216.33 L357.58 219.93 L353.62 219.93 Z" fill="#000" stroke="none" stroke-width="0.6"/>
<path d="M359 216.33 L360.98 219.93 L357.02 219.93 Z" fill="#000" stroke="none" stroke-width="0.6"/>
<path d="M361.2 218.93 L363.18 222.53 L359.22 222.53 Z" fill="#000" stroke="none" stroke-width="0.6"/>
<path d="M358 223.53 L359.98 227.13 L356.02 227.13 Z" fill="#000" stroke="none" stroke-width="0.6"/>
<text x="298" y="253.5" font-size="8.6" text-anchor="middle" font-weight="normal" fill="#000">PBS</text>
<text x="329.2" y="253.5" font-size="8.6" text-anchor="middle" font-weight="normal" fill="#000">IFA</text>
<text x="359.8" y="253.5" font-size="8.6" text-anchor="middle" font-weight="normal" fill="#000">CP</text>
<line x1="298.8" y1="172.5" x2="360" y2="172.5" stroke="#000" stroke-width="1.4" stroke-linecap="butt"/>
<line x1="298.8" y1="170.1" x2="298.8" y2="174.9" stroke="#000" stroke-width="1.4" stroke-linecap="butt"/>
<line x1="360" y1="170.1" x2="360" y2="174.9" stroke="#000" stroke-width="1.4" stroke-linecap="butt"/>
<line x1="298.8" y1="179.6" x2="329" y2="179.6" stroke="#000" stroke-width="1.4" stroke-linecap="butt"/>
<line x1="298.8" y1="177.2" x2="298.8" y2="182.0" stroke="#000" stroke-width="1.4" stroke-linecap="butt"/>
<line x1="329" y1="177.2" x2="329" y2="182.0" stroke="#000" stroke-width="1.4" stroke-linecap="butt"/>
<text x="325.62" y="171.48" font-size="7.07" letter-spacing="-0.99" style="stroke-width:0.3px">★</text>
<text x="305.53" y="179.67" font-size="6.86" letter-spacing="-0.96" style="stroke-width:0.3px">★★★</text>
<text x="446.6" y="154.5" font-size="11" text-anchor="middle" font-weight="normal" fill="#000">BM Immature</text>
<rect x="418.8" y="215.6" width="20.599999999999966" height="23.80000000000001" fill="#fff" stroke="#000" stroke-width="1.3"/>
<line x1="429.1" y1="239.4" x2="429.1" y2="242.0" stroke="#000" stroke-width="1.2" stroke-linecap="butt"/>
<rect x="449.7" y="207.1" width="20.400000000000034" height="32.30000000000001" fill="#c8c8c8" stroke="#000" stroke-width="1.3"/>
<line x1="459.9" y1="239.4" x2="459.9" y2="242.0" stroke="#000" stroke-width="1.2" stroke-linecap="butt"/>
<rect x="480.3" y="212.5" width="20.399999999999977" height="26.900000000000006" fill="#6e6e6e" stroke="#000" stroke-width="1.3"/>
<line x1="490.5" y1="239.4" x2="490.5" y2="242.0" stroke="#000" stroke-width="1.2" stroke-linecap="butt"/>
<line x1="414" y1="177.0" x2="414" y2="240.0" stroke="#000" stroke-width="1.4" stroke-linecap="butt"/>
<line x1="411.8" y1="177.5" x2="414" y2="177.5" stroke="#000" stroke-width="1.26" stroke-linecap="butt"/>
<text x="411.5" y="179.91" font-size="6.7" text-anchor="end" font-weight="normal" fill="#000">2.5×10<tspan font-size="4.56" dy="-2.81">07</tspan></text>
<line x1="411.8" y1="189.9" x2="414" y2="189.9" stroke="#000" stroke-width="1.26" stroke-linecap="butt"/>
<text x="411.5" y="192.31" font-size="6.7" text-anchor="end" font-weight="normal" fill="#000">2.0×10<tspan font-size="4.56" dy="-2.81">07</tspan></text>
<line x1="411.8" y1="202.3" x2="414" y2="202.3" stroke="#000" stroke-width="1.26" stroke-linecap="butt"/>
<text x="411.5" y="204.71" font-size="6.7" text-anchor="end" font-weight="normal" fill="#000">1.5×10<tspan font-size="4.56" dy="-2.81">07</tspan></text>
<line x1="411.8" y1="214.7" x2="414" y2="214.7" stroke="#000" stroke-width="1.26" stroke-linecap="butt"/>
<text x="411.5" y="217.11" font-size="6.7" text-anchor="end" font-weight="normal" fill="#000">1.0×10<tspan font-size="4.56" dy="-2.81">07</tspan></text>
<line x1="411.8" y1="227.1" x2="414" y2="227.1" stroke="#000" stroke-width="1.26" stroke-linecap="butt"/>
<text x="411.5" y="229.51" font-size="6.7" text-anchor="end" font-weight="normal" fill="#000">5.0×10<tspan font-size="4.56" dy="-2.81">06</tspan></text>
<line x1="411.8" y1="239.4" x2="414" y2="239.4" stroke="#000" stroke-width="1.26" stroke-linecap="butt"/>
<text x="411.5" y="241.81" font-size="6.7" text-anchor="end" font-weight="normal" fill="#000">0.0</text>
<line x1="413.3" y1="239.4" x2="504.5" y2="239.4" stroke="#000" stroke-width="1.4" stroke-linecap="butt"/>
<line x1="429.1" y1="214.2" x2="429.1" y2="217.0" stroke="#000" stroke-width="1.1" stroke-linecap="butt"/>
<line x1="427.1" y1="214.2" x2="431.1" y2="214.2" stroke="#000" stroke-width="1.1" stroke-linecap="butt"/>
<line x1="427.1" y1="217.0" x2="431.1" y2="217.0" stroke="#000" stroke-width="1.1" stroke-linecap="butt"/>
<line x1="459.9" y1="205.7" x2="459.9" y2="208.5" stroke="#000" stroke-width="1.1" stroke-linecap="butt"/>
<line x1="457.9" y1="205.7" x2="461.9" y2="205.7" stroke="#000" stroke-width="1.1" stroke-linecap="butt"/>
<line x1="457.9" y1="208.5" x2="461.9" y2="208.5" stroke="#000" stroke-width="1.1" stroke-linecap="butt"/>
<line x1="490.5" y1="211.1" x2="490.5" y2="213.9" stroke="#000" stroke-width="1.1" stroke-linecap="butt"/>
<line x1="488.5" y1="211.1" x2="492.5" y2="211.1" stroke="#000" stroke-width="1.1" stroke-linecap="butt"/>
<line x1="488.5" y1="213.9" x2="492.5" y2="213.9" stroke="#000" stroke-width="1.1" stroke-linecap="butt"/>
<circle cx="430" cy="196.6" r="1.55" fill="#000" stroke="none" stroke-width="0.6"/>
<circle cx="427" cy="199" r="1.55" fill="#000" stroke="none" stroke-width="0.6"/>
<circle cx="432.8" cy="201.8" r="1.55" fill="#000" stroke="none" stroke-width="0.6"/>
<circle cx="425.5" cy="204.5" r="1.55" fill="#000" stroke="none" stroke-width="0.6"/>
<circle cx="429" cy="204.2" r="1.55" fill="#000" stroke="none" stroke-width="0.6"/>
<circle cx="425.5" cy="206.6" r="1.55" fill="#000" stroke="none" stroke-width="0.6"/>
<circle cx="432.5" cy="206.8" r="1.55" fill="#000" stroke="none" stroke-width="0.6"/>
<circle cx="429" cy="209.5" r="1.55" fill="#000" stroke="none" stroke-width="0.6"/>
<circle cx="427" cy="212.2" r="1.55" fill="#000" stroke="none" stroke-width="0.6"/>
<circle cx="431" cy="214.5" r="1.55" fill="#000" stroke="none" stroke-width="0.6"/>
<circle cx="423.5" cy="219" r="1.55" fill="#000" stroke="none" stroke-width="0.6"/>
<circle cx="434.5" cy="218" r="1.55" fill="#000" stroke="none" stroke-width="0.6"/>
<circle cx="427" cy="221" r="1.55" fill="#000" stroke="none" stroke-width="0.6"/>
<circle cx="431" cy="219.6" r="1.55" fill="#000" stroke="none" stroke-width="0.6"/>
<circle cx="423.5" cy="223.8" r="1.55" fill="#000" stroke="none" stroke-width="0.6"/>
<circle cx="434.5" cy="224" r="1.55" fill="#000" stroke="none" stroke-width="0.6"/>
<circle cx="427.2" cy="224" r="1.55" fill="#000" stroke="none" stroke-width="0.6"/>
<circle cx="431" cy="224.4" r="1.55" fill="#000" stroke="none" stroke-width="0.6"/>
<circle cx="425.5" cy="229.2" r="1.55" fill="#000" stroke="none" stroke-width="0.6"/>
<circle cx="432.5" cy="229.5" r="1.55" fill="#000" stroke="none" stroke-width="0.6"/>
<circle cx="429" cy="232.2" r="1.55" fill="#000" stroke="none" stroke-width="0.6"/>
<rect x="457.7" y="179.3" width="3.4" height="3.4" fill="#000" stroke="none" stroke-width="0.6"/>
<rect x="457.7" y="183.9" width="3.4" height="3.4" fill="#000" stroke="none" stroke-width="0.6"/>
<rect x="457.7" y="189.3" width="3.4" height="3.4" fill="#000" stroke="none" stroke-width="0.6"/>
<rect x="457.7" y="194.3" width="3.4" height="3.4" fill="#000" stroke="none" stroke-width="0.6"/>
<rect x="450.3" y="197.3" width="3.4" height="3.4" fill="#000" stroke="none" stroke-width="0.6"/>
<rect x="461.3" y="197.3" width="3.4" height="3.4" fill="#000" stroke="none" stroke-width="0.6"/>
<rect x="465.3" y="197.3" width="3.4" height="3.4" fill="#000" stroke="none" stroke-width="0.6"/>
<rect x="453.3" y="200.3" width="3.4" height="3.4" fill="#000" stroke="none" stroke-width="0.6"/>
<rect x="458.3" y="200.3" width="3.4" height="3.4" fill="#000" stroke="none" stroke-width="0.6"/>
<rect x="450.3" y="205.3" width="3.4" height="3.4" fill="#000" stroke="none" stroke-width="0.6"/>
<rect x="454.3" y="205.3" width="3.4" height="3.4" fill="#000" stroke="none" stroke-width="0.6"/>
<rect x="461.3" y="205.3" width="3.4" height="3.4" fill="#000" stroke="none" stroke-width="0.6"/>
<rect x="456.3" y="208.3" width="3.4" height="3.4" fill="#000" stroke="none" stroke-width="0.6"/>
<rect x="460.7" y="208.3" width="3.4" height="3.4" fill="#000" stroke="none" stroke-width="0.6"/>
<rect x="453.3" y="210.7" width="3.4" height="3.4" fill="#000" stroke="none" stroke-width="0.6"/>
<rect x="460.3" y="211.3" width="3.4" height="3.4" fill="#000" stroke="none" stroke-width="0.6"/>
<rect x="457.3" y="213.7" width="3.4" height="3.4" fill="#000" stroke="none" stroke-width="0.6"/>
<rect x="464.3" y="215.3" width="3.4" height="3.4" fill="#000" stroke="none" stroke-width="0.6"/>
<rect x="456.3" y="217.3" width="3.4" height="3.4" fill="#000" stroke="none" stroke-width="0.6"/>
<rect x="461.3" y="217.3" width="3.4" height="3.4" fill="#000" stroke="none" stroke-width="0.6"/>
<rect x="452.3" y="221.9" width="3.4" height="3.4" fill="#000" stroke="none" stroke-width="0.6"/>
<rect x="462.3" y="221.9" width="3.4" height="3.4" fill="#000" stroke="none" stroke-width="0.6"/>
<rect x="456.3" y="223.7" width="3.4" height="3.4" fill="#000" stroke="none" stroke-width="0.6"/>
<rect x="459.7" y="224.1" width="3.4" height="3.4" fill="#000" stroke="none" stroke-width="0.6"/>
<path d="M489.4 197.33 L491.38 200.93 L487.42 200.93 Z" fill="#000" stroke="none" stroke-width="0.6"/>
<path d="M488 207.53 L489.98 211.13 L486.02 211.13 Z" fill="#000" stroke="none" stroke-width="0.6"/>
<path d="M491.6 207.53 L493.58 211.13 L489.62 211.13 Z" fill="#000" stroke="none" stroke-width="0.6"/>
<path d="M482 211.53 L483.98 215.13 L480.02 215.13 Z" fill="#000" stroke="none" stroke-width="0.6"/>
<path d="M485.6 211.53 L487.58 215.13 L483.62 215.13 Z" fill="#000" stroke="none" stroke-width="0.6"/>
<path d="M489 211.53 L490.98 215.13 L487.02 215.13 Z" fill="#000" stroke="none" stroke-width="0.6"/>
<path d="M492.4 211.53 L494.38 215.13 L490.42 215.13 Z" fill="#000" stroke="none" stroke-width="0.6"/>
<path d="M497 210.33 L498.98 213.93 L495.02 213.93 Z" fill="#000" stroke="none" stroke-width="0.6"/>
<path d="M491 216.93 L492.98 220.53 L489.02 220.53 Z" fill="#000" stroke="none" stroke-width="0.6"/>
<path d="M488 220.33 L489.98 223.93 L486.02 223.93 Z" fill="#000" stroke="none" stroke-width="0.6"/>
<text x="428.8" y="253.5" font-size="8.6" text-anchor="middle" font-weight="normal" fill="#000">PBS</text>
<text x="458.8" y="253.5" font-size="8.6" text-anchor="middle" font-weight="normal" fill="#000">IFA</text>
<text x="489.6" y="253.5" font-size="8.6" text-anchor="middle" font-weight="normal" fill="#000">CP</text>
<line x1="429.3" y1="170" x2="490" y2="170" stroke="#000" stroke-width="1.4" stroke-linecap="butt"/>
<line x1="429.3" y1="167.6" x2="429.3" y2="172.4" stroke="#000" stroke-width="1.4" stroke-linecap="butt"/>
<line x1="490" y1="167.6" x2="490" y2="172.4" stroke="#000" stroke-width="1.4" stroke-linecap="butt"/>
<line x1="429.3" y1="176.8" x2="459.3" y2="176.8" stroke="#000" stroke-width="1.4" stroke-linecap="butt"/>
<line x1="429.3" y1="174.4" x2="429.3" y2="179.20000000000002" stroke="#000" stroke-width="1.4" stroke-linecap="butt"/>
<line x1="459.3" y1="174.4" x2="459.3" y2="179.20000000000002" stroke="#000" stroke-width="1.4" stroke-linecap="butt"/>
<text x="460" y="167.6" font-size="6.5" text-anchor="middle" font-weight="normal" fill="#000">NS</text>
<text x="441.32" y="176.08" font-size="7.07" letter-spacing="-0.99" style="stroke-width:0.3px">★</text>
<line x1="33.2" y1="304" x2="35" y2="304" stroke="#888" stroke-width="0.8" stroke-linecap="butt"/>
<line x1="33.2" y1="318" x2="35" y2="318" stroke="#888" stroke-width="0.8" stroke-linecap="butt"/>
<line x1="33.2" y1="333" x2="35" y2="333" stroke="#888" stroke-width="0.8" stroke-linecap="butt"/>
<line x1="33.2" y1="348" x2="35" y2="348" stroke="#888" stroke-width="0.8" stroke-linecap="butt"/>
<line x1="33.2" y1="355" x2="35" y2="355" stroke="#888" stroke-width="0.8" stroke-linecap="butt"/>
<line x1="44" y1="363.5" x2="44" y2="365.2" stroke="#888" stroke-width="0.8" stroke-linecap="butt"/>
<line x1="49" y1="363.5" x2="49" y2="365.2" stroke="#888" stroke-width="0.8" stroke-linecap="butt"/>
<line x1="64" y1="363.5" x2="64" y2="365.2" stroke="#888" stroke-width="0.8" stroke-linecap="butt"/>
<line x1="78" y1="363.5" x2="78" y2="365.2" stroke="#888" stroke-width="0.8" stroke-linecap="butt"/>
<line x1="92" y1="363.5" x2="92" y2="365.2" stroke="#888" stroke-width="0.8" stroke-linecap="butt"/>
<g filter="url(#bl)">
<path d="M37.5 350.6 C37.9 348.0 38.9 342.9 41.6 340.5 C44.3 338.1 49.9 337.8 53.7 336.0 C57.5 334.2 62.2 332.3 64.4 329.8 C66.6 327.3 65.5 323.6 67.0 321.0 C68.5 318.4 70.6 316.1 73.5 314.5 C76.4 312.9 82.0 311.4 84.5 311.6 C87.0 311.8 88.3 313.0 88.5 315.5 C88.7 318.0 86.8 322.3 85.5 326.4 C84.2 330.5 82.8 336.5 80.5 340.0 C78.2 343.5 75.2 345.4 72.0 347.6 C68.8 349.8 65.1 351.9 61.3 353.4 C57.5 354.9 52.8 356.0 49.2 356.4 C45.6 356.8 41.5 357.0 39.5 356.0 C37.5 355.0 37.1 353.2 37.5 350.6 Z" fill="#303030" stroke="#000" stroke-width="1.6" stroke-linejoin="round"/>
<ellipse cx="48.5" cy="348.3" rx="11.5" ry="6.6" fill="#1a1a1a" stroke="#f0f0f0" stroke-width="0.7" transform="rotate(-22 48.5 348.3)"/>
<ellipse cx="48.5" cy="348.3" rx="9.45" ry="5.42" fill="#808080" stroke="#f0f0f0" stroke-width="0.7" transform="rotate(-22 48.5 348.3)"/>
<ellipse cx="48.5" cy="348.3" rx="7.39" ry="4.24" fill="#141414" stroke="#f0f0f0" stroke-width="0.7" transform="rotate(-22 48.5 348.3)"/>
<ellipse cx="48.5" cy="348.3" rx="5.34" ry="3.06" fill="#8e8e8e" stroke="#f0f0f0" stroke-width="0.7" transform="rotate(-22 48.5 348.3)"/>
<ellipse cx="48.5" cy="348.3" rx="3.29" ry="1.89" fill="#0c0c0c" stroke="#f0f0f0" stroke-width="0.7" transform="rotate(-22 48.5 348.3)"/>
<path d="M55.0 339.5 C56.3 338.8 60.8 337.1 63.0 335.5 C65.2 333.9 67.2 330.9 68.0 330.0" fill="none" stroke="#e8e8e8" stroke-width="0.9" stroke-linejoin="round"/>
<path d="M59.0 344.5 C60.2 343.8 63.9 342.2 66.0 340.5 C68.1 338.8 70.6 335.5 71.5 334.5" fill="none" stroke="#d8d8d8" stroke-width="1.1" stroke-linejoin="round"/>
<path d="M62.0 349.0 C63.5 348.2 68.3 346.0 71.0 344.0 C73.7 342.0 76.8 338.2 78.0 337.0" fill="none" stroke="#cfcfcf" stroke-width="0.8" stroke-linejoin="round"/>
<ellipse cx="79" cy="319.5" rx="8.3" ry="5" fill="#2a2a2a" stroke="#c8c8c8" stroke-width="0.6" transform="rotate(-32 79 319.5)"/>
<ellipse cx="79" cy="319.5" rx="5.2" ry="2.8" fill="#111" stroke="#b0b0b0" stroke-width="0.5" transform="rotate(-32 79 319.5)"/>
<ellipse cx="75" cy="334.3" rx="5" ry="3.2" fill="#7a7a7a" stroke="#222" stroke-width="0.8" transform="rotate(-20 75 334.3)"/>
</g>
<path d="M37 298 H96.3 V361" fill="none" stroke="#9a9a9a" stroke-width="0.8"/>
<path d="M37 298 V361 H96.3" fill="none" stroke="#b4b4b4" stroke-width="0.8" stroke-dasharray="1.2 0.8"/>
<rect x="66.3" y="309" width="28.700000000000003" height="19.80000000000001" fill="none" stroke="#000" stroke-width="2.8"/>
<rect x="66.3" y="328.8" width="28.700000000000003" height="12.5" fill="none" stroke="#000" stroke-width="2.8"/>
<text x="39.4" y="307" font-size="9.9" text-anchor="start" font-weight="normal" fill="#000" style="stroke-width:0.55px">Naive</text>
<text x="79.65" y="307" font-size="7.2" text-anchor="middle" font-weight="bold" fill="#000">15.8</text>
<text x="96" y="350.6" font-size="7.2" text-anchor="end" font-weight="bold" fill="#000">7.5</text>
<line x1="33.2" y1="374" x2="35" y2="374" stroke="#888" stroke-width="0.8" stroke-linecap="butt"/>
<line x1="33.2" y1="388" x2="35" y2="388" stroke="#888" stroke-width="0.8" stroke-linecap="butt"/>
<line x1="33.2" y1="403" x2="35" y2="403" stroke="#888" stroke-width="0.8" stroke-linecap="butt"/>
<line x1="33.2" y1="418" x2="35" y2="418" stroke="#888" stroke-width="0.8" stroke-linecap="butt"/>
<line x1="33.2" y1="425" x2="35" y2="425" stroke="#888" stroke-width="0.8" stroke-linecap="butt"/>
<line x1="44" y1="433.5" x2="44" y2="435.2" stroke="#888" stroke-width="0.8" stroke-linecap="butt"/>
<line x1="49" y1="433.5" x2="49" y2="435.2" stroke="#888" stroke-width="0.8" stroke-linecap="butt"/>
<line x1="64" y1="433.5" x2="64" y2="435.2" stroke="#888" stroke-width="0.8" stroke-linecap="butt"/>
<line x1="78" y1="433.5" x2="78" y2="435.2" stroke="#888" stroke-width="0.8" stroke-linecap="butt"/>
<line x1="92" y1="433.5" x2="92" y2="435.2" stroke="#888" stroke-width="0.8" stroke-linecap="butt"/>
<g filter="url(#bl)">
<path d="M36.5 423.0 C37.0 420.8 37.3 416.9 40.3 414.5 C43.3 412.1 50.1 410.4 54.3 408.5 C58.5 406.6 63.0 404.5 65.3 403.0 C67.6 401.5 67.1 401.5 68.0 399.5 C68.9 397.5 69.6 393.3 70.8 391.0 C72.0 388.7 73.0 386.6 75.0 385.5 C77.0 384.4 80.6 383.9 83.0 384.2 C85.4 384.5 88.3 385.5 89.3 387.5 C90.3 389.5 89.3 393.8 89.0 396.0 C88.7 398.2 87.8 398.6 87.5 401.0 C87.2 403.4 88.6 408.2 87.5 410.5 C86.4 412.8 83.4 413.2 81.0 415.0 C78.6 416.8 76.2 419.2 73.0 421.2 C69.8 423.2 65.9 425.5 62.0 426.8 C58.1 428.1 53.8 428.7 49.6 428.8 C45.4 428.9 39.2 428.5 37.0 427.5 C34.8 426.5 36.0 425.2 36.5 423.0 Z" fill="#1e1e1e" stroke="#000" stroke-width="1.6" stroke-linejoin="round"/>
<ellipse cx="49" cy="419.3" rx="12.0" ry="6.6" fill="#1a1a1a" stroke="#f0f0f0" stroke-width="0.7" transform="rotate(-20 49 419.3)"/>
<ellipse cx="49" cy="419.3" rx="9.86" ry="5.42" fill="#808080" stroke="#f0f0f0" stroke-width="0.7" transform="rotate(-20 49 419.3)"/>
<ellipse cx="49" cy="419.3" rx="7.71" ry="4.24" fill="#141414" stroke="#f0f0f0" stroke-width="0.7" transform="rotate(-20 49 419.3)"/>
<ellipse cx="49" cy="419.3" rx="5.57" ry="3.06" fill="#8e8e8e" stroke="#f0f0f0" stroke-width="0.7" transform="rotate(-20 49 419.3)"/>
<ellipse cx="49" cy="419.3" rx="3.43" ry="1.89" fill="#0c0c0c" stroke="#f0f0f0" stroke-width="0.7" transform="rotate(-20 49 419.3)"/>
<path d="M57.0 411.5 C58.2 410.9 61.9 409.2 64.0 408.0 C66.1 406.8 68.6 405.1 69.5 404.5" fill="none" stroke="#e4e4e4" stroke-width="0.9" stroke-linejoin="round"/>
<path d="M62.0 416.5 C63.0 415.9 66.2 414.2 68.0 413.0 C69.8 411.8 71.8 410.1 72.5 409.5" fill="none" stroke="#d4d4d4" stroke-width="0.9" stroke-linejoin="round"/>
<ellipse cx="80.5" cy="392.5" rx="7" ry="6.3" fill="#1c1c1c" stroke="none" stroke-width="0.6" transform="rotate(0 80.5 392.5)"/>
<ellipse cx="78.5" cy="404.8" rx="7.8" ry="3.6" fill="#222" stroke="none" stroke-width="0.6" transform="rotate(0 78.5 404.8)"/>
<path d="M73.0 416.0 C74.0 415.5 77.2 414.0 79.0 413.0 C80.8 412.0 83.2 410.5 84.0 410.0" fill="none" stroke="#ccc" stroke-width="0.8" stroke-linejoin="round"/>
</g>
<path d="M37 368 H96.3 V431" fill="none" stroke="#9a9a9a" stroke-width="0.8"/>
<path d="M37 368 V431 H96.3" fill="none" stroke="#b4b4b4" stroke-width="0.8" stroke-dasharray="1.2 0.8"/>
<rect x="66" y="376.2" width="29" height="21.100000000000023" fill="none" stroke="#000" stroke-width="2.8"/>
<rect x="66" y="397.3" width="29" height="12.399999999999977" fill="none" stroke="#000" stroke-width="2.8"/>
<text x="38.2" y="377" font-size="10.5" text-anchor="start" font-weight="normal" fill="#000" style="stroke-width:0.55px">10 h</text>
<text x="79.5" y="374.2" font-size="7.2" text-anchor="middle" font-weight="bold" fill="#000">7.5</text>
<text x="96" y="419.0" font-size="7.2" text-anchor="end" font-weight="bold" fill="#000">8.1</text>
<line x1="101.0" y1="374" x2="102.8" y2="374" stroke="#888" stroke-width="0.8" stroke-linecap="butt"/>
<line x1="101.0" y1="388" x2="102.8" y2="388" stroke="#888" stroke-width="0.8" stroke-linecap="butt"/>
<line x1="101.0" y1="403" x2="102.8" y2="403" stroke="#888" stroke-width="0.8" stroke-linecap="butt"/>
<line x1="101.0" y1="418" x2="102.8" y2="418" stroke="#888" stroke-width="0.8" stroke-linecap="butt"/>
<line x1="101.0" y1="425" x2="102.8" y2="425" stroke="#888" stroke-width="0.8" stroke-linecap="butt"/>
<line x1="111.8" y1="433.5" x2="111.8" y2="435.2" stroke="#888" stroke-width="0.8" stroke-linecap="butt"/>
<line x1="116.8" y1="433.5" x2="116.8" y2="435.2" stroke="#888" stroke-width="0.8" stroke-linecap="butt"/>
<line x1="131.8" y1="433.5" x2="131.8" y2="435.2" stroke="#888" stroke-width="0.8" stroke-linecap="butt"/>
<line x1="145.8" y1="433.5" x2="145.8" y2="435.2" stroke="#888" stroke-width="0.8" stroke-linecap="butt"/>
<line x1="159.8" y1="433.5" x2="159.8" y2="435.2" stroke="#888" stroke-width="0.8" stroke-linecap="butt"/>
<g filter="url(#bl)">
<path d="M106.3 420.0 C106.2 417.7 106.5 414.2 108.8 412.0 C111.0 409.8 115.8 407.9 119.8 406.5 C123.8 405.1 129.7 404.5 132.8 403.5 C135.9 402.5 136.8 401.7 138.3 400.5 C139.8 399.3 140.9 398.5 141.8 396.5 C142.7 394.5 142.9 390.6 143.8 388.5 C144.7 386.4 145.6 384.9 147.3 384.2 C149.0 383.5 152.2 383.5 153.8 384.5 C155.4 385.5 156.3 387.8 156.6 390.0 C156.9 392.2 155.8 395.7 155.8 398.0 C155.8 400.3 156.8 402.1 156.8 404.0 C156.8 405.9 157.5 408.2 155.8 409.5 C154.1 410.8 149.4 410.7 146.8 411.5 C144.2 412.3 142.5 412.8 140.3 414.5 C138.1 416.2 136.9 419.6 133.8 421.5 C130.7 423.4 125.9 425.2 121.8 426.0 C117.7 426.8 111.9 427.0 109.3 426.0 C106.7 425.0 106.4 422.3 106.3 420.0 Z" fill="#1e1e1e" stroke="#000" stroke-width="1.6" stroke-linejoin="round"/>
<ellipse cx="120.3" cy="416.5" rx="12.5" ry="6.6" fill="#1a1a1a" stroke="#f0f0f0" stroke-width="0.7" transform="rotate(-12 120.3 416.5)"/>
<ellipse cx="120.3" cy="416.5" rx="10.27" ry="5.42" fill="#808080" stroke="#f0f0f0" stroke-width="0.7" transform="rotate(-12 120.3 416.5)"/>
<ellipse cx="120.3" cy="416.5" rx="8.04" ry="4.24" fill="#141414" stroke="#f0f0f0" stroke-width="0.7" transform="rotate(-12 120.3 416.5)"/>
<ellipse cx="120.3" cy="416.5" rx="5.8" ry="3.06" fill="#8e8e8e" stroke="#f0f0f0" stroke-width="0.7" transform="rotate(-12 120.3 416.5)"/>
<ellipse cx="120.3" cy="416.5" rx="3.57" ry="1.89" fill="#0c0c0c" stroke="#f0f0f0" stroke-width="0.7" transform="rotate(-12 120.3 416.5)"/>
<ellipse cx="150.1" cy="391.5" rx="4.2" ry="5.6" fill="#9a9a9a" stroke="#555" stroke-width="0.6" transform="rotate(8 150.1 391.5)"/>
<ellipse cx="145.8" cy="404.5" rx="8" ry="3.4" fill="#3a3a3a" stroke="none" stroke-width="0.6" transform="rotate(0 145.8 404.5)"/>
<ellipse cx="150.8" cy="405" rx="3" ry="2.2" fill="#a8a8a8" stroke="none" stroke-width="0.6" transform="rotate(0 150.8 405)"/>
<path d="M154.3 401 L157.3 404.5 L154.3 408 Z" fill="#eee" stroke="none" stroke-width="1" stroke-linejoin="round"/>
</g>
<path d="M104.8 368 H164.1 V431" fill="none" stroke="#9a9a9a" stroke-width="0.8"/>
<path d="M104.8 368 V431 H164.1" fill="none" stroke="#b4b4b4" stroke-width="0.8" stroke-dasharray="1.2 0.8"/>
<rect x="134" y="376.2" width="28" height="21.100000000000023" fill="none" stroke="#000" stroke-width="2.8"/>
<rect x="134" y="397.3" width="28" height="12.399999999999977" fill="none" stroke="#000" stroke-width="2.8"/>
<text x="108.0" y="377" font-size="10.5" text-anchor="start" font-weight="normal" fill="#000" style="stroke-width:0.55px">15 h</text>
<text x="147.0" y="374.2" font-size="7.2" text-anchor="middle" font-weight="bold" fill="#000">5.2</text>
<text x="161.6" y="419.0" font-size="7.2" text-anchor="end" font-weight="bold" fill="#000">9</text>
<line x1="170.7" y1="374" x2="172.5" y2="374" stroke="#888" stroke-width="0.8" stroke-linecap="butt"/>
<line x1="170.7" y1="388" x2="172.5" y2="388" stroke="#888" stroke-width="0.8" stroke-linecap="butt"/>
<line x1="170.7" y1="403" x2="172.5" y2="403" stroke="#888" stroke-width="0.8" stroke-linecap="butt"/>
<line x1="170.7" y1="418" x2="172.5" y2="418" stroke="#888" stroke-width="0.8" stroke-linecap="butt"/>
<line x1="170.7" y1="425" x2="172.5" y2="425" stroke="#888" stroke-width="0.8" stroke-linecap="butt"/>
<line x1="181.5" y1="433.5" x2="181.5" y2="435.2" stroke="#888" stroke-width="0.8" stroke-linecap="butt"/>
<line x1="186.5" y1="433.5" x2="186.5" y2="435.2" stroke="#888" stroke-width="0.8" stroke-linecap="butt"/>
<line x1="201.5" y1="433.5" x2="201.5" y2="435.2" stroke="#888" stroke-width="0.8" stroke-linecap="butt"/>
<line x1="215.5" y1="433.5" x2="215.5" y2="435.2" stroke="#888" stroke-width="0.8" stroke-linecap="butt"/>
<line x1="229.5" y1="433.5" x2="229.5" y2="435.2" stroke="#888" stroke-width="0.8" stroke-linecap="butt"/>
<g filter="url(#bl)">
<path d="M176.5 420.0 C176.5 417.4 177.3 413.3 179.5 411.0 C181.7 408.7 186.2 407.6 189.5 406.0 C192.8 404.4 196.9 402.8 199.0 401.5 C201.1 400.2 201.2 399.8 202.0 398.0 C202.8 396.2 202.6 392.6 203.5 390.5 C204.4 388.4 205.5 386.8 207.5 385.5 C209.5 384.2 213.0 382.6 215.5 382.8 C218.0 383.0 220.7 384.8 222.5 386.5 C224.3 388.2 225.6 390.6 226.5 393.0 C227.4 395.4 227.8 398.2 228.0 401.0 C228.2 403.8 229.4 407.9 228.0 410.0 C226.6 412.1 222.2 412.6 219.5 413.5 C216.8 414.4 214.0 414.0 211.5 415.5 C209.0 417.0 207.7 420.6 204.5 422.5 C201.3 424.4 196.7 426.3 192.5 427.0 C188.3 427.7 182.2 427.7 179.5 426.5 C176.8 425.3 176.5 422.6 176.5 420.0 Z" fill="#303030" stroke="#000" stroke-width="1.6" stroke-linejoin="round"/>
<ellipse cx="190.0" cy="416.5" rx="12.5" ry="6.2" fill="#1a1a1a" stroke="#f0f0f0" stroke-width="0.7" transform="rotate(-17 190.0 416.5)"/>
<ellipse cx="190.0" cy="416.5" rx="10.27" ry="5.09" fill="#808080" stroke="#f0f0f0" stroke-width="0.7" transform="rotate(-17 190.0 416.5)"/>
<ellipse cx="190.0" cy="416.5" rx="8.04" ry="3.99" fill="#141414" stroke="#f0f0f0" stroke-width="0.7" transform="rotate(-17 190.0 416.5)"/>
<ellipse cx="190.0" cy="416.5" rx="5.8" ry="2.88" fill="#8e8e8e" stroke="#f0f0f0" stroke-width="0.7" transform="rotate(-17 190.0 416.5)"/>
<ellipse cx="190.0" cy="416.5" rx="3.57" ry="1.77" fill="#0c0c0c" stroke="#f0f0f0" stroke-width="0.7" transform="rotate(-17 190.0 416.5)"/>
<ellipse cx="191.5" cy="416" rx="5" ry="1.8" fill="#1c1c1c" stroke="none" stroke-width="0.6" transform="rotate(-12 191.5 416)"/>
<path d="M204.0 400.0 C204.2 398.7 204.1 394.2 205.0 392.0 C205.9 389.8 207.8 388.1 209.5 387.0 C211.2 385.9 213.5 385.2 215.5 385.5 C217.5 385.8 219.9 387.4 221.5 389.0 C223.1 390.6 224.3 393.2 225.0 395.0 C225.7 396.8 225.4 399.2 225.5 400.0" fill="#5a5a5a" stroke="#e0e0e0" stroke-width="0.6" stroke-linejoin="round"/>
<path d="M206.5 400.0 C206.7 398.9 206.7 395.2 207.5 393.5 C208.3 391.8 210.1 390.2 211.5 389.5 C212.9 388.8 214.6 388.6 216.0 389.0 C217.4 389.4 219.0 390.2 220.0 392.0 C221.0 393.8 221.7 398.7 222.0 400.0" fill="#3c3c3c" stroke="#d0d0d0" stroke-width="0.6" stroke-linejoin="round"/>
<path d="M209.0 400.0 C209.2 399.2 209.3 396.3 210.0 395.0 C210.7 393.7 211.9 392.3 213.0 392.0 C214.1 391.7 215.7 391.7 216.5 393.0 C217.3 394.3 217.8 398.8 218.0 400.0" fill="#777" stroke="#eee" stroke-width="0.6" stroke-linejoin="round"/>
<ellipse cx="214.1" cy="393.5" rx="1.6" ry="1.4" fill="#fff" stroke="none" stroke-width="0.6" transform="rotate(0 214.1 393.5)"/>
<ellipse cx="214.0" cy="397.5" rx="1.8" ry="1.4" fill="#222" stroke="none" stroke-width="0.6" transform="rotate(0 214.0 397.5)"/>
<ellipse cx="215.0" cy="406.8" rx="10.5" ry="4" fill="#444" stroke="#e4e4e4" stroke-width="0.6" transform="rotate(0 215.0 406.8)"/>
<ellipse cx="214.0" cy="406.5" rx="6.8" ry="2.2" fill="#8a8a8a" stroke="#eee" stroke-width="0.6" transform="rotate(0 214.0 406.5)"/>
<ellipse cx="213.5" cy="406.3" rx="3.2" ry="0.9" fill="#333" stroke="none" stroke-width="0.6" transform="rotate(0 213.5 406.3)"/>
</g>
<path d="M174.5 368 H233.8 V431" fill="none" stroke="#9a9a9a" stroke-width="0.8"/>
<path d="M174.5 368 V431 H233.8" fill="none" stroke="#b4b4b4" stroke-width="0.8" stroke-dasharray="1.2 0.8"/>
<rect x="201.5" y="376.2" width="28.0" height="21.100000000000023" fill="none" stroke="#000" stroke-width="2.8"/>
<rect x="201.5" y="397.3" width="28.0" height="11.199999999999989" fill="none" stroke="#000" stroke-width="2.8"/>
<text x="176.7" y="377" font-size="10.5" text-anchor="start" font-weight="normal" fill="#000" style="stroke-width:0.55px">42 h</text>
<text x="216.3" y="374.2" font-size="7.2" text-anchor="middle" font-weight="bold" fill="#000">22.5</text>
<text x="232.5" y="417.8" font-size="7.2" text-anchor="end" font-weight="bold" fill="#000">22.8</text>
<line x1="26.55" y1="412" x2="26.55" y2="438.9" stroke="#000" stroke-width="2.1" stroke-linecap="butt"/>
<line x1="25.5" y1="437.85" x2="51.5" y2="437.85" stroke="#000" stroke-width="2.1" stroke-linecap="butt"/>
<path d="M26.55 408.3 L30.5 415 L22.6 415 Z" fill="#000"/>
<path d="M56.6 437.85 L49.7 434.4 L49.7 441.3 Z" fill="#000"/>
<text x="23" y="435.3" font-size="8.6" text-anchor="start" font-weight="bold" fill="#000" transform="rotate(-90 23 435.3)" style="stroke-width:0">Gr-1</text>
<text x="23.4" y="448.1" font-size="9.1" text-anchor="start" font-weight="bold" fill="#000" style="stroke-width:0">CD11b</text>
<text x="346.5" y="291.4" font-size="10.5" text-anchor="middle" font-weight="bold" fill="#000">BM Myeloid</text>
<text x="243.6" y="361.5" font-size="8.5" text-anchor="middle" font-weight="normal" fill="#000" transform="rotate(-90 243.6 361.5)" style="stroke-width:0.45px">Cell Number Total Organ</text>
<text x="292.5" y="321" font-size="8.6" text-anchor="start" font-weight="normal" fill="#000">Gr-1<tspan font-size="5.8" dy="-3.2">hi</tspan><tspan dy="3.2"> CD11b</tspan><tspan font-size="5.8" dy="-3.2">+</tspan></text>
<line x1="280.3" y1="327.0" x2="280.3" y2="395.6" stroke="#000" stroke-width="1.3" stroke-linecap="butt"/>
<line x1="278.1" y1="327.5" x2="280.3" y2="327.5" stroke="#000" stroke-width="1.1700000000000002" stroke-linecap="butt"/>
<text x="277.8" y="330.13" font-size="7.3" text-anchor="end" font-weight="normal" fill="#000">8×10<tspan font-size="4.96" dy="-3.07">07</tspan></text>
<line x1="278.1" y1="344.4" x2="280.3" y2="344.4" stroke="#000" stroke-width="1.1700000000000002" stroke-linecap="butt"/>
<text x="277.8" y="347.03" font-size="7.3" text-anchor="end" font-weight="normal" fill="#000">6×10<tspan font-size="4.96" dy="-3.07">07</tspan></text>
<line x1="278.1" y1="361.3" x2="280.3" y2="361.3" stroke="#000" stroke-width="1.1700000000000002" stroke-linecap="butt"/>
<text x="277.8" y="363.93" font-size="7.3" text-anchor="end" font-weight="normal" fill="#000">4×10<tspan font-size="4.96" dy="-3.07">07</tspan></text>
<line x1="278.1" y1="378.1" x2="280.3" y2="378.1" stroke="#000" stroke-width="1.1700000000000002" stroke-linecap="butt"/>
<text x="277.8" y="380.73" font-size="7.3" text-anchor="end" font-weight="normal" fill="#000">2×10<tspan font-size="4.96" dy="-3.07">07</tspan></text>
<line x1="278.1" y1="395" x2="280.3" y2="395" stroke="#000" stroke-width="1.1700000000000002" stroke-linecap="butt"/>
<text x="277.8" y="397.63" font-size="7.3" text-anchor="end" font-weight="normal" fill="#000">0</text>
<line x1="279.6" y1="395.2" x2="373.3" y2="395.2" stroke="#000" stroke-width="1.4" stroke-linecap="butt"/>
<line x1="292.3" y1="395.2" x2="292.3" y2="397.6" stroke="#000" stroke-width="1.1" stroke-linecap="butt"/>
<text x="292.3" y="405.2" font-size="7.2" text-anchor="middle" font-weight="normal" fill="#000">10</text>
<line x1="315.3" y1="395.2" x2="315.3" y2="397.6" stroke="#000" stroke-width="1.1" stroke-linecap="butt"/>
<text x="315.3" y="405.2" font-size="7.2" text-anchor="middle" font-weight="normal" fill="#000">15</text>
<line x1="338.5" y1="395.2" x2="338.5" y2="397.6" stroke="#000" stroke-width="1.1" stroke-linecap="butt"/>
<text x="338.5" y="405.2" font-size="7.2" text-anchor="middle" font-weight="normal" fill="#000">24</text>
<line x1="361.8" y1="395.2" x2="361.8" y2="397.6" stroke="#000" stroke-width="1.1" stroke-linecap="butt"/>
<text x="361.8" y="405.2" font-size="7.2" text-anchor="middle" font-weight="normal" fill="#000">42</text>
<text x="327.5" y="415.4" font-size="9" text-anchor="middle" font-weight="normal" fill="#000">Time (h)</text>
<polyline fill="none" stroke="#000" stroke-width="1.4" points="292.3,377.5 315.3,377.5 338.5,383 361.8,352"/>
<polyline fill="none" stroke="#000" stroke-width="1.3" stroke-dasharray="3 1.8" points="292.3,362.3 315.3,350.2 338.5,348 361.8,352"/>
<line x1="292.3" y1="374.5" x2="292.3" y2="380.5" stroke="#000" stroke-width="1.1" stroke-linecap="butt"/>
<line x1="290.1" y1="374.5" x2="294.5" y2="374.5" stroke="#000" stroke-width="1.1" stroke-linecap="butt"/>
<line x1="290.1" y1="380.5" x2="294.5" y2="380.5" stroke="#000" stroke-width="1.1" stroke-linecap="butt"/>
<path d="M292.3 375.77 L293.95 378.77 L290.65 378.77 Z" fill="#000" stroke="none" stroke-width="0.6"/>
<line x1="315.3" y1="374.3" x2="315.3" y2="380.7" stroke="#000" stroke-width="1.1" stroke-linecap="butt"/>
<line x1="313.1" y1="374.3" x2="317.5" y2="374.3" stroke="#000" stroke-width="1.1" stroke-linecap="butt"/>
<line x1="313.1" y1="380.7" x2="317.5" y2="380.7" stroke="#000" stroke-width="1.1" stroke-linecap="butt"/>
<path d="M315.3 375.77 L316.95 378.77 L313.65 378.77 Z" fill="#000" stroke="none" stroke-width="0.6"/>
<line x1="338.5" y1="380.6" x2="338.5" y2="385.4" stroke="#000" stroke-width="1.1" stroke-linecap="butt"/>
<line x1="336.3" y1="380.6" x2="340.7" y2="380.6" stroke="#000" stroke-width="1.1" stroke-linecap="butt"/>
<line x1="336.3" y1="385.4" x2="340.7" y2="385.4" stroke="#000" stroke-width="1.1" stroke-linecap="butt"/>
<path d="M338.5 381.27 L340.15 384.27 L336.85 384.27 Z" fill="#000" stroke="none" stroke-width="0.6"/>
<line x1="361.8" y1="342" x2="361.8" y2="362" stroke="#000" stroke-width="1.1" stroke-linecap="butt"/>
<line x1="359.6" y1="342" x2="364.0" y2="342" stroke="#000" stroke-width="1.1" stroke-linecap="butt"/>
<line x1="359.6" y1="362" x2="364.0" y2="362" stroke="#000" stroke-width="1.1" stroke-linecap="butt"/>
<path d="M361.8 350.27 L363.45 353.27 L360.15 353.27 Z" fill="#000" stroke="none" stroke-width="0.6"/>
<line x1="292.3" y1="354.5" x2="292.3" y2="370.1" stroke="#000" stroke-width="1.1" stroke-linecap="butt"/>
<line x1="290.1" y1="354.5" x2="294.5" y2="354.5" stroke="#000" stroke-width="1.1" stroke-linecap="butt"/>
<line x1="290.1" y1="370.1" x2="294.5" y2="370.1" stroke="#000" stroke-width="1.1" stroke-linecap="butt"/>
<rect x="290.8" y="360.8" width="3.0" height="3.0" fill="#000" stroke="none" stroke-width="0.6"/>
<line x1="315.3" y1="346.0" x2="315.3" y2="354.4" stroke="#000" stroke-width="1.1" stroke-linecap="butt"/>
<line x1="313.1" y1="346.0" x2="317.5" y2="346.0" stroke="#000" stroke-width="1.1" stroke-linecap="butt"/>
<line x1="313.1" y1="354.4" x2="317.5" y2="354.4" stroke="#000" stroke-width="1.1" stroke-linecap="butt"/>
<rect x="313.8" y="348.7" width="3.0" height="3.0" fill="#000" stroke="none" stroke-width="0.6"/>
<line x1="338.5" y1="347" x2="338.5" y2="349" stroke="#000" stroke-width="1.1" stroke-linecap="butt"/>
<line x1="336.3" y1="347" x2="340.7" y2="347" stroke="#000" stroke-width="1.1" stroke-linecap="butt"/>
<line x1="336.3" y1="349" x2="340.7" y2="349" stroke="#000" stroke-width="1.1" stroke-linecap="butt"/>
<rect x="337.0" y="346.5" width="3.0" height="3.0" fill="#000" stroke="none" stroke-width="0.6"/>
<line x1="361.8" y1="342" x2="361.8" y2="362" stroke="#000" stroke-width="1.1" stroke-linecap="butt"/>
<line x1="359.6" y1="342" x2="364.0" y2="342" stroke="#000" stroke-width="1.1" stroke-linecap="butt"/>
<line x1="359.6" y1="362" x2="364.0" y2="362" stroke="#000" stroke-width="1.1" stroke-linecap="butt"/>
<rect x="360.3" y="350.5" width="3.0" height="3.0" fill="#000" stroke="none" stroke-width="0.6"/>
<text x="418" y="321" font-size="8.3" text-anchor="start" font-weight="normal" fill="#000">Gr-1<tspan font-size="5.8" dy="-3.2">lo</tspan><tspan dy="3.2" dx="0.7">CD11b</tspan><tspan font-size="5.8" dy="-3.2">+</tspan></text>
<line x1="405.8" y1="327.0" x2="405.8" y2="395.1" stroke="#000" stroke-width="1.3" stroke-linecap="butt"/>
<line x1="403.6" y1="327.5" x2="405.8" y2="327.5" stroke="#000" stroke-width="1.1700000000000002" stroke-linecap="butt"/>
<text x="403.3" y="329.98" font-size="6.9" text-anchor="end" font-weight="normal" fill="#000">5×10<tspan font-size="4.69" dy="-2.9">07</tspan></text>
<line x1="403.6" y1="340.9" x2="405.8" y2="340.9" stroke="#000" stroke-width="1.1700000000000002" stroke-linecap="butt"/>
<text x="403.3" y="343.38" font-size="6.9" text-anchor="end" font-weight="normal" fill="#000">4×10<tspan font-size="4.69" dy="-2.9">07</tspan></text>
<line x1="403.6" y1="354.3" x2="405.8" y2="354.3" stroke="#000" stroke-width="1.1700000000000002" stroke-linecap="butt"/>
<text x="403.3" y="356.78" font-size="6.9" text-anchor="end" font-weight="normal" fill="#000">3×10<tspan font-size="4.69" dy="-2.9">07</tspan></text>
<line x1="403.6" y1="367.7" x2="405.8" y2="367.7" stroke="#000" stroke-width="1.1700000000000002" stroke-linecap="butt"/>
<text x="403.3" y="370.18" font-size="6.9" text-anchor="end" font-weight="normal" fill="#000">2×10<tspan font-size="4.69" dy="-2.9">07</tspan></text>
<line x1="403.6" y1="381.1" x2="405.8" y2="381.1" stroke="#000" stroke-width="1.1700000000000002" stroke-linecap="butt"/>
<text x="403.3" y="383.58" font-size="6.9" text-anchor="end" font-weight="normal" fill="#000">1×10<tspan font-size="4.69" dy="-2.9">07</tspan></text>
<line x1="403.6" y1="394.5" x2="405.8" y2="394.5" stroke="#000" stroke-width="1.1700000000000002" stroke-linecap="butt"/>
<text x="403.3" y="396.98" font-size="6.9" text-anchor="end" font-weight="normal" fill="#000">0</text>
<line x1="405.1" y1="394.7" x2="491.5" y2="394.7" stroke="#000" stroke-width="1.3" stroke-linecap="butt"/>
<line x1="416.3" y1="394.7" x2="416.3" y2="397.1" stroke="#000" stroke-width="1.1" stroke-linecap="butt"/>
<text x="416.3" y="405.2" font-size="7.2" text-anchor="middle" font-weight="normal" fill="#000">10</text>
<line x1="438" y1="394.7" x2="438" y2="397.1" stroke="#000" stroke-width="1.1" stroke-linecap="butt"/>
<text x="438" y="405.2" font-size="7.2" text-anchor="middle" font-weight="normal" fill="#000">15</text>
<line x1="459.7" y1="394.7" x2="459.7" y2="397.1" stroke="#000" stroke-width="1.1" stroke-linecap="butt"/>
<text x="459.7" y="405.2" font-size="7.2" text-anchor="middle" font-weight="normal" fill="#000">24</text>
<line x1="481.4" y1="394.7" x2="481.4" y2="397.1" stroke="#000" stroke-width="1.1" stroke-linecap="butt"/>
<text x="481.4" y="405.2" font-size="7.2" text-anchor="middle" font-weight="normal" fill="#000">42</text>
<text x="450.7" y="415.4" font-size="9" text-anchor="middle" font-weight="normal" fill="#000">Time (h)</text>
<polyline fill="none" stroke="#000" stroke-width="1.4" points="416.3,371.8 438,370.5 459.7,361.7 481.4,345"/>
<polyline fill="none" stroke="#000" stroke-width="1.3" stroke-dasharray="3 1.8" points="416.3,371.8 438,357.6 459.7,356.3 481.4,353"/>
<line x1="416.3" y1="368.3" x2="416.3" y2="375.3" stroke="#000" stroke-width="1.1" stroke-linecap="butt"/>
<line x1="414.1" y1="368.3" x2="418.5" y2="368.3" stroke="#000" stroke-width="1.1" stroke-linecap="butt"/>
<line x1="414.1" y1="375.3" x2="418.5" y2="375.3" stroke="#000" stroke-width="1.1" stroke-linecap="butt"/>
<circle cx="416.3" cy="371.8" r="1.6" fill="#000" stroke="#000" stroke-width="1.0"/>
<line x1="438" y1="350.6" x2="438" y2="364.6" stroke="#000" stroke-width="1.1" stroke-linecap="butt"/>
<line x1="435.8" y1="350.6" x2="440.2" y2="350.6" stroke="#000" stroke-width="1.1" stroke-linecap="butt"/>
<line x1="435.8" y1="364.6" x2="440.2" y2="364.6" stroke="#000" stroke-width="1.1" stroke-linecap="butt"/>
<circle cx="438" cy="357.6" r="1.6" fill="#8a8a8a" stroke="#000" stroke-width="1.0"/>
<line x1="459.7" y1="352.1" x2="459.7" y2="360.5" stroke="#000" stroke-width="1.1" stroke-linecap="butt"/>
<line x1="457.5" y1="352.1" x2="461.9" y2="352.1" stroke="#000" stroke-width="1.1" stroke-linecap="butt"/>
<line x1="457.5" y1="360.5" x2="461.9" y2="360.5" stroke="#000" stroke-width="1.1" stroke-linecap="butt"/>
<circle cx="459.7" cy="356.3" r="1.6" fill="#8a8a8a" stroke="#000" stroke-width="1.0"/>
<line x1="481.4" y1="345.2" x2="481.4" y2="360.8" stroke="#666" stroke-width="1.1" stroke-linecap="butt"/>
<line x1="479.2" y1="345.2" x2="483.59999999999997" y2="345.2" stroke="#666" stroke-width="1.1" stroke-linecap="butt"/>
<line x1="479.2" y1="360.8" x2="483.59999999999997" y2="360.8" stroke="#666" stroke-width="1.1" stroke-linecap="butt"/>
<circle cx="481.4" cy="353" r="1.6" fill="#fff" stroke="#555" stroke-width="1.0"/>
<line x1="416.3" y1="367.6" x2="416.3" y2="376.0" stroke="#000" stroke-width="1.1" stroke-linecap="butt"/>
<line x1="414.1" y1="367.6" x2="418.5" y2="367.6" stroke="#000" stroke-width="1.1" stroke-linecap="butt"/>
<line x1="414.1" y1="376.0" x2="418.5" y2="376.0" stroke="#000" stroke-width="1.1" stroke-linecap="butt"/>
<circle cx="416.3" cy="371.8" r="1.6" fill="#000" stroke="none" stroke-width="0.6"/>
<line x1="438" y1="365.5" x2="438" y2="375.5" stroke="#000" stroke-width="1.1" stroke-linecap="butt"/>
<line x1="435.8" y1="365.5" x2="440.2" y2="365.5" stroke="#000" stroke-width="1.1" stroke-linecap="butt"/>
<line x1="435.8" y1="375.5" x2="440.2" y2="375.5" stroke="#000" stroke-width="1.1" stroke-linecap="butt"/>
<circle cx="438" cy="370.5" r="1.6" fill="#000" stroke="none" stroke-width="0.6"/>
<line x1="459.7" y1="357.7" x2="459.7" y2="365.7" stroke="#000" stroke-width="1.1" stroke-linecap="butt"/>
<line x1="457.5" y1="357.7" x2="461.9" y2="357.7" stroke="#000" stroke-width="1.1" stroke-linecap="butt"/>
<line x1="457.5" y1="365.7" x2="461.9" y2="365.7" stroke="#000" stroke-width="1.1" stroke-linecap="butt"/>
<circle cx="459.7" cy="361.7" r="1.6" fill="#000" stroke="none" stroke-width="0.6"/>
<line x1="481.4" y1="341.2" x2="481.4" y2="348.8" stroke="#000" stroke-width="1.1" stroke-linecap="butt"/>
<line x1="479.2" y1="341.2" x2="483.59999999999997" y2="341.2" stroke="#000" stroke-width="1.1" stroke-linecap="butt"/>
<line x1="479.2" y1="348.8" x2="483.59999999999997" y2="348.8" stroke="#000" stroke-width="1.1" stroke-linecap="butt"/>
<circle cx="481.4" cy="345" r="1.6" fill="#000" stroke="none" stroke-width="0.6"/>
<line x1="497.4" y1="332" x2="503.2" y2="332" stroke="#000" stroke-width="1.2" stroke-linecap="butt"/>
<circle cx="500.3" cy="332" r="1.5" fill="#000" stroke="none" stroke-width="0.6"/>
<text x="505.3" y="334.3" font-size="6.6" text-anchor="start" font-weight="normal" fill="#000">IFA</text>
<line x1="497.4" y1="340.8" x2="503.2" y2="340.8" stroke="#000" stroke-width="1.2" stroke-dasharray="1.6 0.9" stroke-linecap="butt"/>
<circle cx="500.3" cy="340.8" r="1.4" fill="#fff" stroke="#000" stroke-width="0.8"/>
<text x="505.3" y="343.1" font-size="6.6" text-anchor="start" font-weight="normal" fill="#000">PBS</text>
</svg>
</body></html>
